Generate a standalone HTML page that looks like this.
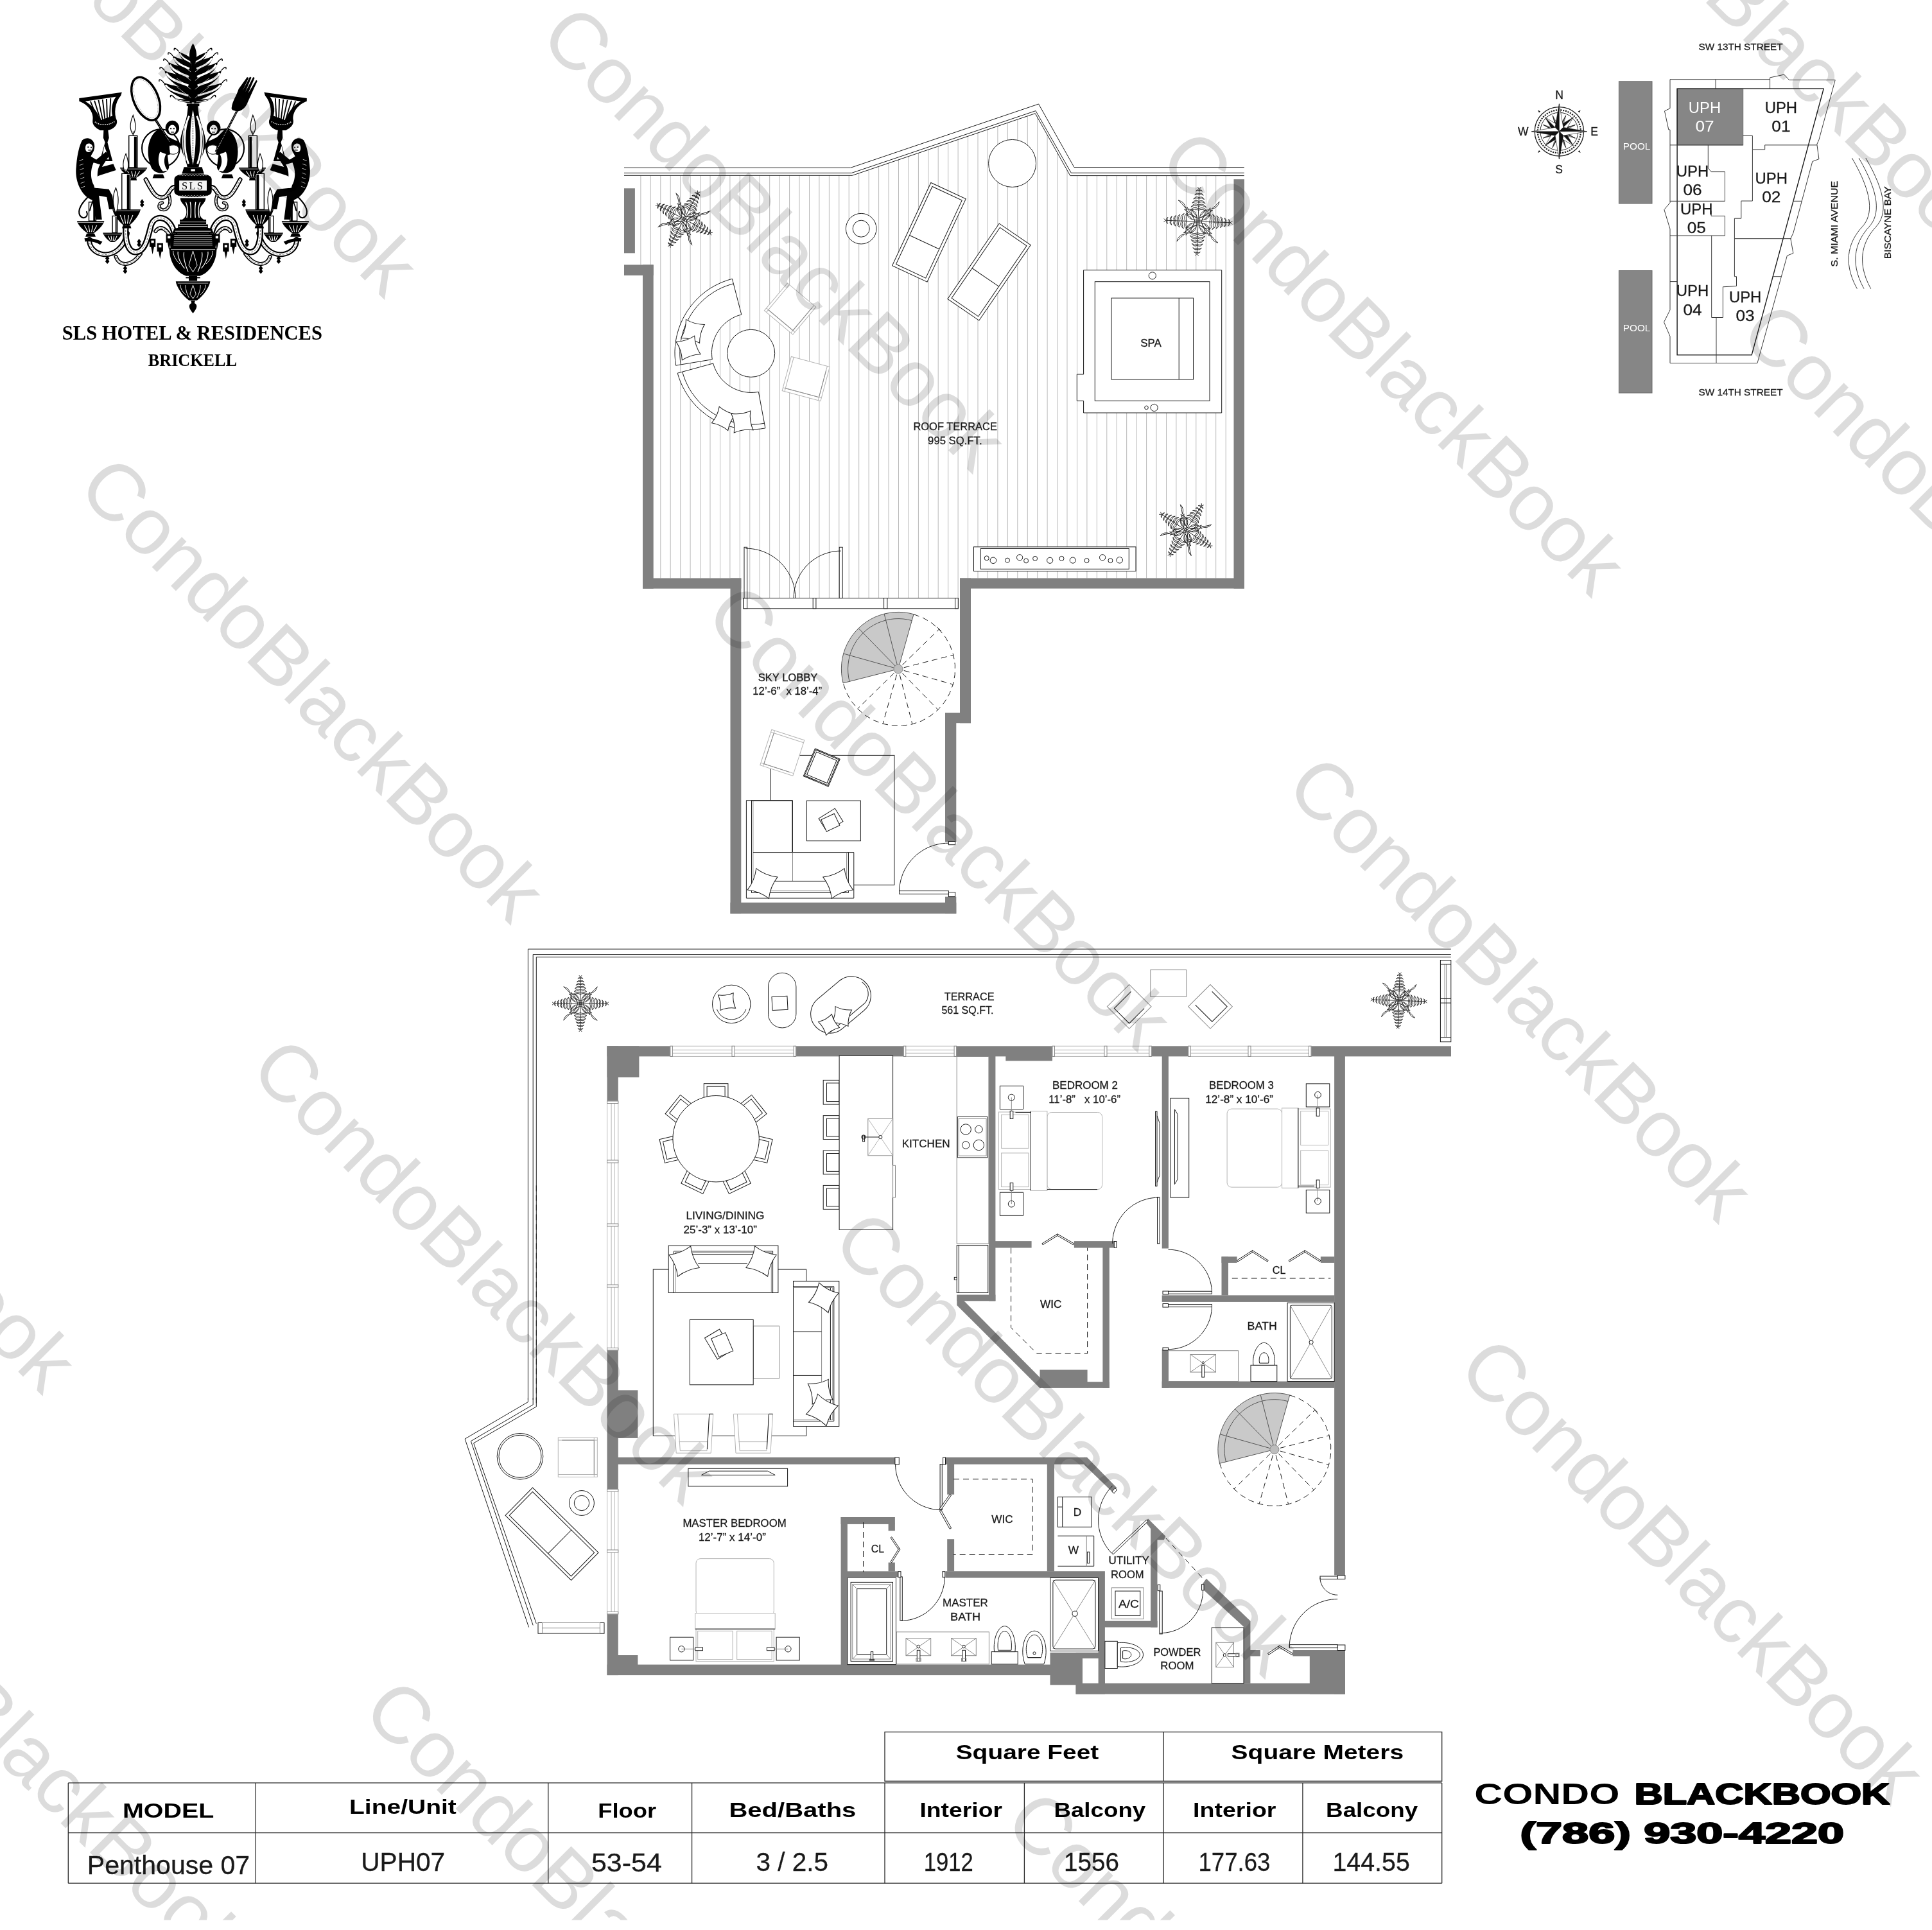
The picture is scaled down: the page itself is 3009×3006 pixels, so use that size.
<!DOCTYPE html>
<html><head><meta charset="utf-8"><title>SLS Brickell UPH07 Floor Plan</title><style>
html,body{margin:0;padding:0;background:#fff}
svg{display:block;filter:grayscale(1)}
text{font-family:"Liberation Sans",sans-serif;fill:#111}
.t{font-family:"Liberation Sans",sans-serif;fill:#1a1a1a;stroke:#1a1a1a;stroke-width:0.28px}
.tb{font-family:"Liberation Sans",sans-serif;font-weight:bold;fill:#000}
.ts{font-family:"Liberation Serif",serif;font-weight:bold;fill:#000}
.tw{font-family:"Liberation Sans",sans-serif;fill:#fff}
.l{fill:none;stroke:#1c1c1c;stroke-width:1}
.lw{fill:#fff;stroke:#1c1c1c;stroke-width:1}
.g{fill:none;stroke:#8a8a8a;stroke-width:1}
.gw{fill:#fff;stroke:#8a8a8a;stroke-width:1}
.g2{fill:none;stroke:#b4b4b4;stroke-width:1}
.g2w{fill:#fff;stroke:#b4b4b4;stroke-width:1}
.d{fill:none;stroke:#1c1c1c;stroke-width:1;stroke-dasharray:9 6}
.k{fill:#000;stroke:none}
.wf{fill:#fff;stroke:none}
</style></head><body>
<svg xmlns="http://www.w3.org/2000/svg" width="3009" height="3006" viewBox="0 0 3009 3006">
<rect width="3009" height="3006" fill="#fff"/>
<g id="stripes"><clipPath id="tc"><polygon points="1017.7,273.3 1327.5,273.3 1612.5,176.5 1667,273.5 1921.5,273.5 1921.5,900.5 1495,900.5 1495,931.6 1154.3,931.6 1154.3,900.5 1017.7,900.5 1017.7,412.4 972,412.4 972,273.3"/></clipPath>
<path clip-path="url(#tc)" d="M997.9 150V940M1013.3 150V940M1028.8 150V940M1044.2 150V940M1059.7 150V940M1075.1 150V940M1090.6 150V940M1106 150V940M1121.5 150V940M1136.9 150V940M1152.3 150V940M1167.8 150V940M1183.2 150V940M1198.7 150V940M1214.1 150V940M1229.6 150V940M1245 150V940M1260.5 150V940M1275.9 150V940M1291.4 150V940M1306.8 150V940M1322.2 150V940M1337.7 150V940M1353.1 150V940M1368.6 150V940M1384 150V940M1399.5 150V940M1414.9 150V940M1430.4 150V940M1445.8 150V940M1461.2 150V940M1476.7 150V940M1492.1 150V940M1507.6 150V940M1523 150V940M1538.5 150V940M1553.9 150V940M1569.4 150V940M1584.8 150V940M1600.3 150V940M1615.7 150V940M1631.1 150V940M1646.6 150V940M1662 150V940M1677.5 150V940M1692.9 150V940M1708.4 150V940M1723.8 150V940M1739.3 150V940M1754.7 150V940M1770.1 150V940M1785.6 150V940M1801 150V940M1816.5 150V940M1831.9 150V940M1847.4 150V940M1862.8 150V940M1878.3 150V940M1893.7 150V940M1909.2 150V940M1924.6 150V940" fill="none" stroke="#b9b9b9" stroke-width="1"/></g>
<g id="fill"><polygon class="sg" points="1399,1042 1313.1,1063.9 1311.6,1056.3 1310.6,1048.6 1310.4,1040.9 1310.8,1033.2 1311.9,1025.5 1313.7,1018 1316.1,1010.7 1319.2,1003.6 1322.8,996.8 1327,990.3 1331.8,984.2 1337.1,978.6 1342.9,973.4 1349.1,968.8 1355.6,964.7 1362.5,961.2 1369.7,958.4 1377.1,956.1 1384.7,954.6 1392.4,953.6 1400.1,953.4 1407.8,953.8 1415.5,954.9 1423,956.7"/>
<polygon class="sg" points="1984.9,2257.6 1899.6,2279.3 1898.1,2271.8 1897.1,2264.2 1896.9,2256.5 1897.3,2248.9 1898.4,2241.3 1900.2,2233.8 1902.6,2226.5 1905.6,2219.4 1909.2,2212.7 1913.4,2206.2 1918.2,2200.2 1923.4,2194.6 1929.2,2189.5 1935.3,2184.9 1941.8,2180.9 1948.7,2177.4 1955.8,2174.5 1963.2,2172.3 1970.7,2170.8 1978.3,2169.8 1986,2169.6 1993.6,2170 2001.2,2171.1 2008.7,2172.9"/></g>
<g id="walls" fill="#808080"><rect x="972" y="293.3" width="16.9" height="101"/>
<rect x="972" y="412.4" width="45.7" height="16.6"/>
<rect x="1001" y="412.4" width="16.7" height="504.3"/>
<rect x="1001" y="900.5" width="153.3" height="16.2"/>
<rect x="1137.5" y="900.5" width="16.8" height="522.4"/>
<rect x="1137.5" y="1405.7" width="351.8" height="17.2"/>
<rect x="1472" y="1396.7" width="17.3" height="26.2"/>
<rect x="1472" y="1110" width="17.3" height="201"/>
<rect x="1472" y="1110" width="40" height="16.2"/>
<rect x="1495" y="900.5" width="17" height="225.7"/>
<rect x="1495" y="900.5" width="443" height="16.1"/>
<rect x="1921.5" y="279.2" width="16.5" height="637.4"/>
<rect x="945.5" y="1629.3" width="98.4" height="16.1"/>
<rect x="1239.6" y="1629.3" width="167.7" height="16.1"/>
<rect x="1489.6" y="1629.3" width="149.4" height="16.1"/>
<rect x="1566.3" y="1644.4" width="72.7" height="7.9"/>
<rect x="1793.3" y="1629.3" width="57.5" height="16.1"/>
<rect x="2042" y="1629.3" width="218" height="16.1"/>
<rect x="945.5" y="1629.3" width="49.9" height="48.7"/>
<rect x="945.5" y="1629.3" width="17.3" height="85.7"/>
<rect x="945.5" y="2102.9" width="17.3" height="216.7"/>
<rect x="962" y="2165.3" width="31.4" height="74.6"/>
<rect x="945.5" y="2513.9" width="17.3" height="95.2"/>
<rect x="962" y="2578" width="31.4" height="15"/>
<rect x="945.5" y="2592.6" width="694.5" height="16.5"/>
<rect x="962" y="2269.8" width="432" height="10.9"/>
<rect x="1540" y="1644.4" width="10.4" height="381.9"/>
<rect x="1490.3" y="2016.6" width="60.1" height="9.7"/>
<rect x="1550" y="1933.1" width="56.6" height="10.4"/>
<rect x="1672.9" y="1933.1" width="62.1" height="10.4"/>
<rect x="1717.4" y="1943" width="10.4" height="218.9"/>
<rect x="1619.5" y="2133.5" width="74.1" height="28.4"/>
<rect x="1693" y="2152.2" width="34.8" height="9.7"/>
<polygon points="1490.3,2016.6 1490.3,2032.9 1619.5,2161.9 1636,2161.9 1501.5,2026.3"/>
<rect x="1809.7" y="1644.4" width="10.2" height="300.1"/>
<rect x="2078.1" y="1644.4" width="16.8" height="809.1"/>
<rect x="2078.1" y="2570" width="16.8" height="68.6"/>
<rect x="1902.5" y="1957.2" width="10.5" height="60.3"/>
<rect x="1902.5" y="1957.2" width="24.1" height="9.7"/>
<rect x="2056.8" y="1957.2" width="21.7" height="9.7"/>
<rect x="1809.7" y="2017.4" width="268.8" height="10.5"/>
<rect x="1809.7" y="2151.5" width="268.8" height="10.4"/>
<rect x="1809.7" y="2101.9" width="10.2" height="60"/>
<rect x="1472.5" y="2269.8" width="217.5" height="10.9"/>
<rect x="1475.2" y="2280" width="10.9" height="47.7"/>
<rect x="1475.2" y="2397.2" width="10.9" height="50.3"/>
<rect x="1630.8" y="2280" width="11.2" height="167.5"/>
<rect x="1472.5" y="2447.2" width="248.4" height="10.3"/>
<polygon points="1689,2269.8 1693,2269.8 1739.6,2317.6 1731.8,2323.3 1687.8,2280.7 1689,2280.7"/>
<rect x="1309.6" y="2363" width="10.3" height="230"/>
<rect x="1309.6" y="2363" width="84.3" height="10.9"/>
<rect x="1383.6" y="2373" width="10.3" height="11.2"/>
<rect x="1383.6" y="2433.6" width="10.3" height="13.9"/>
<rect x="1319" y="2447.3" width="81.7" height="9.1"/>
<rect x="1710.6" y="2457" width="10.3" height="165"/>
<rect x="1720" y="2524.7" width="82.5" height="9.8"/>
<rect x="1792.1" y="2398" width="10.4" height="136.5"/>
<polygon points="1783,2369.4 1788.2,2365.5 1815.4,2392.7 1812.8,2398.4 1792.1,2398.4 1792.1,2381"/>
<polygon points="1872.3,2467.7 1878.8,2458.7 1947.4,2524.7 1947.4,2621.8 1937,2621.8 1937,2533.7 1874.9,2476.8 1872.3,2476.8"/>
<rect x="1947" y="2570" width="15.9" height="9.5"/>
<rect x="2013.4" y="2570" width="81.5" height="9.5"/>
<rect x="2039.8" y="2579" width="55.1" height="59.6"/>
<rect x="1675.6" y="2621.7" width="419.3" height="16.9"/>
<rect x="1635.5" y="2573.9" width="85.4" height="50.4"/>
<rect x="1675.6" y="2573.9" width="45.3" height="64.7"/>
<rect class="wf" x="1686" y="2583" width="24.6" height="38.7"/></g>
<g id="lines"><style>.pl{fill:none;stroke:#222;stroke-width:0.9}.sg{fill:#c9c9c9;stroke:none}.sl{fill:none;stroke:#555;stroke-width:1}.sh{fill:#bdbdbd;stroke:#888;stroke-width:1}</style>
<polyline class="l" points="972,261.4 1324.4,261.4 1617.6,162 1673,260.6 1937.8,260.6"/>
<polyline class="l" points="972,269.4 1326.5,269.4 1613,172.6 1668.3,269.3 1937.8,269.3"/>
<polyline class="l" points="972,273.3 1327.3,273.3 1612.3,176.7 1666.8,273.6 1937.8,273.6"/>
<path class="pl" transform="translate(1065.3 341.2) rotate(28)" d="M0 0L0 -46M0 -18.4 Q-7.7 -22.6 -12.4 -14.7 Q-6.2 -19.1 0 -16.2M0 -18.4 Q7.7 -22.6 12.4 -14.7 Q6.2 -19.1 0 -16.2M0 -23.7 Q-6.7 -27.4 -10.9 -20.4 Q-5.4 -24.3 0 -21.7M0 -23.7 Q6.7 -27.4 10.9 -20.4 Q5.4 -24.3 0 -21.7M0 -29 Q-5.8 -32.1 -9.3 -26.2 Q-4.6 -29.5 0 -27.3M0 -29 Q5.8 -32.1 9.3 -26.2 Q4.6 -29.5 0 -27.3M0 -34.3 Q-4.8 -36.9 -7.7 -32 Q-3.9 -34.7 0 -32.9M0 -34.3 Q4.8 -36.9 7.7 -32 Q3.9 -34.7 0 -32.9M0 -39.6 Q-3.8 -41.7 -6.2 -37.7 Q-3.1 -39.9 0 -38.5M0 -39.6 Q3.8 -41.7 6.2 -37.7 Q3.1 -39.9 0 -38.5M0 -44.9 Q-2.9 -46.4 -4.6 -43.5 Q-2.3 -45.1 0 -44M0 -44.9 Q2.9 -46.4 4.6 -43.5 Q2.3 -45.1 0 -44M0 -46 l-2.3 -3.2 M0 -46 l2.3 -3.2M0 -1.8 Q-20.2 -0.9 -16.6 -20.2 Q-10.1 -7.4 0 -4.6M-2.3 -5.5 Q-12 -7.4 -9.2 -16.6 Q-6.4 -10.1 -2.3 -8.3M0 -1.8 Q20.2 -0.9 16.6 -20.2 Q10.1 -7.4 0 -4.6M2.3 -5.5 Q12 -7.4 9.2 -16.6 Q6.4 -10.1 2.3 -8.3M18.4 -18.4 Q27.6 -20.2 29.4 -29.4 Q23.9 -23 18.4 -18.4"/>
<path class="pl" transform="translate(1065.3 341.2) rotate(118)" d="M0 0L0 -46M0 -18.4 Q-7.7 -22.6 -12.4 -14.7 Q-6.2 -19.1 0 -16.2M0 -18.4 Q7.7 -22.6 12.4 -14.7 Q6.2 -19.1 0 -16.2M0 -23.7 Q-6.7 -27.4 -10.9 -20.4 Q-5.4 -24.3 0 -21.7M0 -23.7 Q6.7 -27.4 10.9 -20.4 Q5.4 -24.3 0 -21.7M0 -29 Q-5.8 -32.1 -9.3 -26.2 Q-4.6 -29.5 0 -27.3M0 -29 Q5.8 -32.1 9.3 -26.2 Q4.6 -29.5 0 -27.3M0 -34.3 Q-4.8 -36.9 -7.7 -32 Q-3.9 -34.7 0 -32.9M0 -34.3 Q4.8 -36.9 7.7 -32 Q3.9 -34.7 0 -32.9M0 -39.6 Q-3.8 -41.7 -6.2 -37.7 Q-3.1 -39.9 0 -38.5M0 -39.6 Q3.8 -41.7 6.2 -37.7 Q3.1 -39.9 0 -38.5M0 -44.9 Q-2.9 -46.4 -4.6 -43.5 Q-2.3 -45.1 0 -44M0 -44.9 Q2.9 -46.4 4.6 -43.5 Q2.3 -45.1 0 -44M0 -46 l-2.3 -3.2 M0 -46 l2.3 -3.2M0 -1.8 Q-20.2 -0.9 -16.6 -20.2 Q-10.1 -7.4 0 -4.6M-2.3 -5.5 Q-12 -7.4 -9.2 -16.6 Q-6.4 -10.1 -2.3 -8.3M0 -1.8 Q20.2 -0.9 16.6 -20.2 Q10.1 -7.4 0 -4.6M2.3 -5.5 Q12 -7.4 9.2 -16.6 Q6.4 -10.1 2.3 -8.3M18.4 -18.4 Q27.6 -20.2 29.4 -29.4 Q23.9 -23 18.4 -18.4"/>
<path class="pl" transform="translate(1065.3 341.2) rotate(208)" d="M0 0L0 -46M0 -18.4 Q-7.7 -22.6 -12.4 -14.7 Q-6.2 -19.1 0 -16.2M0 -18.4 Q7.7 -22.6 12.4 -14.7 Q6.2 -19.1 0 -16.2M0 -23.7 Q-6.7 -27.4 -10.9 -20.4 Q-5.4 -24.3 0 -21.7M0 -23.7 Q6.7 -27.4 10.9 -20.4 Q5.4 -24.3 0 -21.7M0 -29 Q-5.8 -32.1 -9.3 -26.2 Q-4.6 -29.5 0 -27.3M0 -29 Q5.8 -32.1 9.3 -26.2 Q4.6 -29.5 0 -27.3M0 -34.3 Q-4.8 -36.9 -7.7 -32 Q-3.9 -34.7 0 -32.9M0 -34.3 Q4.8 -36.9 7.7 -32 Q3.9 -34.7 0 -32.9M0 -39.6 Q-3.8 -41.7 -6.2 -37.7 Q-3.1 -39.9 0 -38.5M0 -39.6 Q3.8 -41.7 6.2 -37.7 Q3.1 -39.9 0 -38.5M0 -44.9 Q-2.9 -46.4 -4.6 -43.5 Q-2.3 -45.1 0 -44M0 -44.9 Q2.9 -46.4 4.6 -43.5 Q2.3 -45.1 0 -44M0 -46 l-2.3 -3.2 M0 -46 l2.3 -3.2M0 -1.8 Q-20.2 -0.9 -16.6 -20.2 Q-10.1 -7.4 0 -4.6M-2.3 -5.5 Q-12 -7.4 -9.2 -16.6 Q-6.4 -10.1 -2.3 -8.3M0 -1.8 Q20.2 -0.9 16.6 -20.2 Q10.1 -7.4 0 -4.6M2.3 -5.5 Q12 -7.4 9.2 -16.6 Q6.4 -10.1 2.3 -8.3M18.4 -18.4 Q27.6 -20.2 29.4 -29.4 Q23.9 -23 18.4 -18.4"/>
<path class="pl" transform="translate(1065.3 341.2) rotate(298)" d="M0 0L0 -46M0 -18.4 Q-7.7 -22.6 -12.4 -14.7 Q-6.2 -19.1 0 -16.2M0 -18.4 Q7.7 -22.6 12.4 -14.7 Q6.2 -19.1 0 -16.2M0 -23.7 Q-6.7 -27.4 -10.9 -20.4 Q-5.4 -24.3 0 -21.7M0 -23.7 Q6.7 -27.4 10.9 -20.4 Q5.4 -24.3 0 -21.7M0 -29 Q-5.8 -32.1 -9.3 -26.2 Q-4.6 -29.5 0 -27.3M0 -29 Q5.8 -32.1 9.3 -26.2 Q4.6 -29.5 0 -27.3M0 -34.3 Q-4.8 -36.9 -7.7 -32 Q-3.9 -34.7 0 -32.9M0 -34.3 Q4.8 -36.9 7.7 -32 Q3.9 -34.7 0 -32.9M0 -39.6 Q-3.8 -41.7 -6.2 -37.7 Q-3.1 -39.9 0 -38.5M0 -39.6 Q3.8 -41.7 6.2 -37.7 Q3.1 -39.9 0 -38.5M0 -44.9 Q-2.9 -46.4 -4.6 -43.5 Q-2.3 -45.1 0 -44M0 -44.9 Q2.9 -46.4 4.6 -43.5 Q2.3 -45.1 0 -44M0 -46 l-2.3 -3.2 M0 -46 l2.3 -3.2M0 -1.8 Q-20.2 -0.9 -16.6 -20.2 Q-10.1 -7.4 0 -4.6M-2.3 -5.5 Q-12 -7.4 -9.2 -16.6 Q-6.4 -10.1 -2.3 -8.3M0 -1.8 Q20.2 -0.9 16.6 -20.2 Q10.1 -7.4 0 -4.6M2.3 -5.5 Q12 -7.4 9.2 -16.6 Q6.4 -10.1 2.3 -8.3M18.4 -18.4 Q27.6 -20.2 29.4 -29.4 Q23.9 -23 18.4 -18.4"/>
<path class="pl" transform="translate(1866 345) rotate(2)" d="M0 0L0 -50M0 -20 Q-8.4 -24.6 -13.5 -15.9 Q-6.8 -20.8 0 -17.6M0 -20 Q8.4 -24.6 13.5 -15.9 Q6.8 -20.8 0 -17.6M0 -25.8 Q-7.3 -29.8 -11.8 -22.2 Q-5.9 -26.5 0 -23.6M0 -25.8 Q7.3 -29.8 11.8 -22.2 Q5.9 -26.5 0 -23.6M0 -31.5 Q-6.3 -34.9 -10.1 -28.5 Q-5.1 -32.1 0 -29.7M0 -31.5 Q6.3 -34.9 10.1 -28.5 Q5.1 -32.1 0 -29.7M0 -37.3 Q-5.2 -40.1 -8.4 -34.7 Q-4.2 -37.8 0 -35.7M0 -37.3 Q5.2 -40.1 8.4 -34.7 Q4.2 -37.8 0 -35.7M0 -43 Q-4.2 -45.3 -6.7 -41 Q-3.4 -43.4 0 -41.8M0 -43 Q4.2 -45.3 6.7 -41 Q3.4 -43.4 0 -41.8M0 -48.8 Q-3.1 -50.5 -5 -47.3 Q-2.5 -49.1 0 -47.9M0 -48.8 Q3.1 -50.5 5 -47.3 Q2.5 -49.1 0 -47.9M0 -50 l-2.5 -3.5 M0 -50 l2.5 -3.5M0 -2 Q-22 -1 -18 -22 Q-11 -8 0 -5M-2.5 -6 Q-13 -8 -10 -18 Q-7 -11 -2.5 -9M0 -2 Q22 -1 18 -22 Q11 -8 0 -5M2.5 -6 Q13 -8 10 -18 Q7 -11 2.5 -9M20 -20 Q30 -22 32 -32 Q26 -25 20 -20"/>
<path class="pl" transform="translate(1866 345) rotate(92)" d="M0 0L0 -50M0 -20 Q-8.4 -24.6 -13.5 -15.9 Q-6.8 -20.8 0 -17.6M0 -20 Q8.4 -24.6 13.5 -15.9 Q6.8 -20.8 0 -17.6M0 -25.8 Q-7.3 -29.8 -11.8 -22.2 Q-5.9 -26.5 0 -23.6M0 -25.8 Q7.3 -29.8 11.8 -22.2 Q5.9 -26.5 0 -23.6M0 -31.5 Q-6.3 -34.9 -10.1 -28.5 Q-5.1 -32.1 0 -29.7M0 -31.5 Q6.3 -34.9 10.1 -28.5 Q5.1 -32.1 0 -29.7M0 -37.3 Q-5.2 -40.1 -8.4 -34.7 Q-4.2 -37.8 0 -35.7M0 -37.3 Q5.2 -40.1 8.4 -34.7 Q4.2 -37.8 0 -35.7M0 -43 Q-4.2 -45.3 -6.7 -41 Q-3.4 -43.4 0 -41.8M0 -43 Q4.2 -45.3 6.7 -41 Q3.4 -43.4 0 -41.8M0 -48.8 Q-3.1 -50.5 -5 -47.3 Q-2.5 -49.1 0 -47.9M0 -48.8 Q3.1 -50.5 5 -47.3 Q2.5 -49.1 0 -47.9M0 -50 l-2.5 -3.5 M0 -50 l2.5 -3.5M0 -2 Q-22 -1 -18 -22 Q-11 -8 0 -5M-2.5 -6 Q-13 -8 -10 -18 Q-7 -11 -2.5 -9M0 -2 Q22 -1 18 -22 Q11 -8 0 -5M2.5 -6 Q13 -8 10 -18 Q7 -11 2.5 -9M20 -20 Q30 -22 32 -32 Q26 -25 20 -20"/>
<path class="pl" transform="translate(1866 345) rotate(182)" d="M0 0L0 -50M0 -20 Q-8.4 -24.6 -13.5 -15.9 Q-6.8 -20.8 0 -17.6M0 -20 Q8.4 -24.6 13.5 -15.9 Q6.8 -20.8 0 -17.6M0 -25.8 Q-7.3 -29.8 -11.8 -22.2 Q-5.9 -26.5 0 -23.6M0 -25.8 Q7.3 -29.8 11.8 -22.2 Q5.9 -26.5 0 -23.6M0 -31.5 Q-6.3 -34.9 -10.1 -28.5 Q-5.1 -32.1 0 -29.7M0 -31.5 Q6.3 -34.9 10.1 -28.5 Q5.1 -32.1 0 -29.7M0 -37.3 Q-5.2 -40.1 -8.4 -34.7 Q-4.2 -37.8 0 -35.7M0 -37.3 Q5.2 -40.1 8.4 -34.7 Q4.2 -37.8 0 -35.7M0 -43 Q-4.2 -45.3 -6.7 -41 Q-3.4 -43.4 0 -41.8M0 -43 Q4.2 -45.3 6.7 -41 Q3.4 -43.4 0 -41.8M0 -48.8 Q-3.1 -50.5 -5 -47.3 Q-2.5 -49.1 0 -47.9M0 -48.8 Q3.1 -50.5 5 -47.3 Q2.5 -49.1 0 -47.9M0 -50 l-2.5 -3.5 M0 -50 l2.5 -3.5M0 -2 Q-22 -1 -18 -22 Q-11 -8 0 -5M-2.5 -6 Q-13 -8 -10 -18 Q-7 -11 -2.5 -9M0 -2 Q22 -1 18 -22 Q11 -8 0 -5M2.5 -6 Q13 -8 10 -18 Q7 -11 2.5 -9M20 -20 Q30 -22 32 -32 Q26 -25 20 -20"/>
<path class="pl" transform="translate(1866 345) rotate(272)" d="M0 0L0 -50M0 -20 Q-8.4 -24.6 -13.5 -15.9 Q-6.8 -20.8 0 -17.6M0 -20 Q8.4 -24.6 13.5 -15.9 Q6.8 -20.8 0 -17.6M0 -25.8 Q-7.3 -29.8 -11.8 -22.2 Q-5.9 -26.5 0 -23.6M0 -25.8 Q7.3 -29.8 11.8 -22.2 Q5.9 -26.5 0 -23.6M0 -31.5 Q-6.3 -34.9 -10.1 -28.5 Q-5.1 -32.1 0 -29.7M0 -31.5 Q6.3 -34.9 10.1 -28.5 Q5.1 -32.1 0 -29.7M0 -37.3 Q-5.2 -40.1 -8.4 -34.7 Q-4.2 -37.8 0 -35.7M0 -37.3 Q5.2 -40.1 8.4 -34.7 Q4.2 -37.8 0 -35.7M0 -43 Q-4.2 -45.3 -6.7 -41 Q-3.4 -43.4 0 -41.8M0 -43 Q4.2 -45.3 6.7 -41 Q3.4 -43.4 0 -41.8M0 -48.8 Q-3.1 -50.5 -5 -47.3 Q-2.5 -49.1 0 -47.9M0 -48.8 Q3.1 -50.5 5 -47.3 Q2.5 -49.1 0 -47.9M0 -50 l-2.5 -3.5 M0 -50 l2.5 -3.5M0 -2 Q-22 -1 -18 -22 Q-11 -8 0 -5M-2.5 -6 Q-13 -8 -10 -18 Q-7 -11 -2.5 -9M0 -2 Q22 -1 18 -22 Q11 -8 0 -5M2.5 -6 Q13 -8 10 -18 Q7 -11 2.5 -9M20 -20 Q30 -22 32 -32 Q26 -25 20 -20"/>
<path class="pl" transform="translate(1846.8 825.7) rotate(33)" d="M0 0L0 -45M0 -18 Q-7.5 -22.1 -12.2 -14.4 Q-6.1 -18.7 0 -15.8M0 -18 Q7.5 -22.1 12.2 -14.4 Q6.1 -18.7 0 -15.8M0 -23.2 Q-6.6 -26.8 -10.6 -20 Q-5.3 -23.8 0 -21.3M0 -23.2 Q6.6 -26.8 10.6 -20 Q5.3 -23.8 0 -21.3M0 -28.4 Q-5.6 -31.4 -9.1 -25.6 Q-4.5 -28.9 0 -26.7M0 -28.4 Q5.6 -31.4 9.1 -25.6 Q4.5 -28.9 0 -26.7M0 -33.5 Q-4.7 -36.1 -7.6 -31.3 Q-3.8 -34 0 -32.2M0 -33.5 Q4.7 -36.1 7.6 -31.3 Q3.8 -34 0 -32.2M0 -38.7 Q-3.7 -40.8 -6 -36.9 Q-3 -39.1 0 -37.6M0 -38.7 Q3.7 -40.8 6 -36.9 Q3 -39.1 0 -37.6M0 -43.9 Q-2.8 -45.4 -4.5 -42.5 Q-2.2 -44.1 0 -43.1M0 -43.9 Q2.8 -45.4 4.5 -42.5 Q2.2 -44.1 0 -43.1M0 -45 l-2.2 -3.2 M0 -45 l2.2 -3.2M0 -1.8 Q-19.8 -0.9 -16.2 -19.8 Q-9.9 -7.2 0 -4.5M-2.2 -5.4 Q-11.7 -7.2 -9 -16.2 Q-6.3 -9.9 -2.2 -8.1M0 -1.8 Q19.8 -0.9 16.2 -19.8 Q9.9 -7.2 0 -4.5M2.2 -5.4 Q11.7 -7.2 9 -16.2 Q6.3 -9.9 2.2 -8.1M18 -18 Q27 -19.8 28.8 -28.8 Q23.4 -22.5 18 -18"/>
<path class="pl" transform="translate(1846.8 825.7) rotate(123)" d="M0 0L0 -45M0 -18 Q-7.5 -22.1 -12.2 -14.4 Q-6.1 -18.7 0 -15.8M0 -18 Q7.5 -22.1 12.2 -14.4 Q6.1 -18.7 0 -15.8M0 -23.2 Q-6.6 -26.8 -10.6 -20 Q-5.3 -23.8 0 -21.3M0 -23.2 Q6.6 -26.8 10.6 -20 Q5.3 -23.8 0 -21.3M0 -28.4 Q-5.6 -31.4 -9.1 -25.6 Q-4.5 -28.9 0 -26.7M0 -28.4 Q5.6 -31.4 9.1 -25.6 Q4.5 -28.9 0 -26.7M0 -33.5 Q-4.7 -36.1 -7.6 -31.3 Q-3.8 -34 0 -32.2M0 -33.5 Q4.7 -36.1 7.6 -31.3 Q3.8 -34 0 -32.2M0 -38.7 Q-3.7 -40.8 -6 -36.9 Q-3 -39.1 0 -37.6M0 -38.7 Q3.7 -40.8 6 -36.9 Q3 -39.1 0 -37.6M0 -43.9 Q-2.8 -45.4 -4.5 -42.5 Q-2.2 -44.1 0 -43.1M0 -43.9 Q2.8 -45.4 4.5 -42.5 Q2.2 -44.1 0 -43.1M0 -45 l-2.2 -3.2 M0 -45 l2.2 -3.2M0 -1.8 Q-19.8 -0.9 -16.2 -19.8 Q-9.9 -7.2 0 -4.5M-2.2 -5.4 Q-11.7 -7.2 -9 -16.2 Q-6.3 -9.9 -2.2 -8.1M0 -1.8 Q19.8 -0.9 16.2 -19.8 Q9.9 -7.2 0 -4.5M2.2 -5.4 Q11.7 -7.2 9 -16.2 Q6.3 -9.9 2.2 -8.1M18 -18 Q27 -19.8 28.8 -28.8 Q23.4 -22.5 18 -18"/>
<path class="pl" transform="translate(1846.8 825.7) rotate(213)" d="M0 0L0 -45M0 -18 Q-7.5 -22.1 -12.2 -14.4 Q-6.1 -18.7 0 -15.8M0 -18 Q7.5 -22.1 12.2 -14.4 Q6.1 -18.7 0 -15.8M0 -23.2 Q-6.6 -26.8 -10.6 -20 Q-5.3 -23.8 0 -21.3M0 -23.2 Q6.6 -26.8 10.6 -20 Q5.3 -23.8 0 -21.3M0 -28.4 Q-5.6 -31.4 -9.1 -25.6 Q-4.5 -28.9 0 -26.7M0 -28.4 Q5.6 -31.4 9.1 -25.6 Q4.5 -28.9 0 -26.7M0 -33.5 Q-4.7 -36.1 -7.6 -31.3 Q-3.8 -34 0 -32.2M0 -33.5 Q4.7 -36.1 7.6 -31.3 Q3.8 -34 0 -32.2M0 -38.7 Q-3.7 -40.8 -6 -36.9 Q-3 -39.1 0 -37.6M0 -38.7 Q3.7 -40.8 6 -36.9 Q3 -39.1 0 -37.6M0 -43.9 Q-2.8 -45.4 -4.5 -42.5 Q-2.2 -44.1 0 -43.1M0 -43.9 Q2.8 -45.4 4.5 -42.5 Q2.2 -44.1 0 -43.1M0 -45 l-2.2 -3.2 M0 -45 l2.2 -3.2M0 -1.8 Q-19.8 -0.9 -16.2 -19.8 Q-9.9 -7.2 0 -4.5M-2.2 -5.4 Q-11.7 -7.2 -9 -16.2 Q-6.3 -9.9 -2.2 -8.1M0 -1.8 Q19.8 -0.9 16.2 -19.8 Q9.9 -7.2 0 -4.5M2.2 -5.4 Q11.7 -7.2 9 -16.2 Q6.3 -9.9 2.2 -8.1M18 -18 Q27 -19.8 28.8 -28.8 Q23.4 -22.5 18 -18"/>
<path class="pl" transform="translate(1846.8 825.7) rotate(303)" d="M0 0L0 -45M0 -18 Q-7.5 -22.1 -12.2 -14.4 Q-6.1 -18.7 0 -15.8M0 -18 Q7.5 -22.1 12.2 -14.4 Q6.1 -18.7 0 -15.8M0 -23.2 Q-6.6 -26.8 -10.6 -20 Q-5.3 -23.8 0 -21.3M0 -23.2 Q6.6 -26.8 10.6 -20 Q5.3 -23.8 0 -21.3M0 -28.4 Q-5.6 -31.4 -9.1 -25.6 Q-4.5 -28.9 0 -26.7M0 -28.4 Q5.6 -31.4 9.1 -25.6 Q4.5 -28.9 0 -26.7M0 -33.5 Q-4.7 -36.1 -7.6 -31.3 Q-3.8 -34 0 -32.2M0 -33.5 Q4.7 -36.1 7.6 -31.3 Q3.8 -34 0 -32.2M0 -38.7 Q-3.7 -40.8 -6 -36.9 Q-3 -39.1 0 -37.6M0 -38.7 Q3.7 -40.8 6 -36.9 Q3 -39.1 0 -37.6M0 -43.9 Q-2.8 -45.4 -4.5 -42.5 Q-2.2 -44.1 0 -43.1M0 -43.9 Q2.8 -45.4 4.5 -42.5 Q2.2 -44.1 0 -43.1M0 -45 l-2.2 -3.2 M0 -45 l2.2 -3.2M0 -1.8 Q-19.8 -0.9 -16.2 -19.8 Q-9.9 -7.2 0 -4.5M-2.2 -5.4 Q-11.7 -7.2 -9 -16.2 Q-6.3 -9.9 -2.2 -8.1M0 -1.8 Q19.8 -0.9 16.2 -19.8 Q9.9 -7.2 0 -4.5M2.2 -5.4 Q11.7 -7.2 9 -16.2 Q6.3 -9.9 2.2 -8.1M18 -18 Q27 -19.8 28.8 -28.8 Q23.4 -22.5 18 -18"/>
<circle class="lw" cx="1341.2" cy="356.2" r="23.8"/>
<circle class="l" cx="1341.2" cy="356.2" r="13"/>
<circle class="lw" cx="1576.6" cy="254.4" r="37"/>
<polygon class="lw" points="1052.6,569.2 1051.6,561.9 1051.1,554.5 1051,547.2 1051.4,539.8 1052.2,532.5 1053.5,525.3 1055.3,518.1 1057.4,511.1 1060,504.2 1063,497.5 1066.5,491 1070.3,484.7 1074.5,478.7 1079.1,472.9 1084,467.4 1089.2,462.2 1094.8,457.4 1100.6,452.9 1106.7,448.8 1113,445.1 1119.6,441.8 1126.4,438.9 1133.3,436.4 1140.4,434.3 1154.8,490 1151.1,491 1147.5,492.3 1144,493.8 1140.6,495.6 1137.3,497.5 1134.2,499.6 1131.2,501.9 1128.3,504.4 1125.6,507.1 1123,509.9 1120.7,512.9 1118.5,516.1 1116.5,519.3 1114.7,522.7 1113.2,526.2 1111.8,529.7 1110.7,533.4 1109.8,537.1 1109.1,540.8 1108.7,544.6 1108.5,548.4 1108.6,552.2 1108.8,556 1109.3,559.8"/>
<polyline class="l" points="1060.3,567.9 1059.4,561.1 1058.9,554.2 1058.8,547.3 1059.2,540.5 1060,533.6 1061.2,526.9 1062.8,520.2 1064.8,513.6 1067.2,507.2 1070.1,500.9 1073.3,494.8 1076.8,488.9 1080.8,483.3 1085,477.9 1089.6,472.8 1094.5,468 1099.7,463.4 1105.2,459.3 1110.9,455.4 1116.8,451.9 1122.9,448.8 1129.2,446.1 1135.7,443.8 1142.3,441.8"/>
<polygon class="lw" points="1191.9,666.9 1184.6,668 1177.3,668.7 1169.9,668.9 1162.5,668.7 1155.2,667.9 1147.9,666.8 1140.7,665.2 1133.6,663.1 1126.6,660.6 1119.8,657.7 1113.2,654.4 1106.9,650.7 1100.7,646.6 1094.9,642.1 1089.3,637.2 1084,632.1 1079.1,626.6 1074.5,620.8 1070.3,614.7 1066.5,608.4 1063,601.9 1060,595.1 1057.4,588.2 1055.2,581.2 1110.7,566 1111.8,569.6 1113.2,573.2 1114.7,576.7 1116.5,580.1 1118.5,583.3 1120.7,586.5 1123,589.5 1125.6,592.3 1128.3,595 1131.2,597.5 1134.2,599.8 1137.4,602 1140.7,603.9 1144.1,605.6 1147.6,607.1 1151.2,608.4 1154.9,609.5 1158.6,610.3 1162.4,610.9 1166.2,611.3 1170,611.4 1173.9,611.3 1177.7,610.9 1181.4,610.4"/>
<polyline class="l" points="1190.5,659.2 1183.7,660.3 1176.8,660.9 1169.9,661.1 1163,660.9 1156.1,660.2 1149.3,659.1 1142.6,657.6 1136,655.7 1129.5,653.4 1123.1,650.7 1117,647.6 1111,644.1 1105.3,640.2 1099.8,636 1094.6,631.5 1089.7,626.7 1085.1,621.5 1080.8,616.1 1076.8,610.5 1073.2,604.6 1070,598.4 1067.2,592.2 1064.8,585.7 1062.7,579.1"/>
<circle class="lw" cx="1169.7" cy="550.3" r="37"/>
<path class="lw" transform="translate(1079 516) rotate(15)" d="M-15 -15Q0 -10.8 15 -15Q10.8 0 15 15Q0 10.8 -15 15Q-10.8 0 -15 -15Z"/>
<path class="lw" transform="translate(1072 542) rotate(-18)" d="M-15 -15Q0 -10.8 15 -15Q10.8 0 15 15Q0 10.8 -15 15Q-10.8 0 -15 -15Z"/>
<path class="lw" transform="translate(1127 652) rotate(25)" d="M-14 -14Q0 -10.1 14 -14Q10.1 0 14 14Q0 10.1 -14 14Q-10.1 0 -14 -14Z"/>
<path class="lw" transform="translate(1156 657) rotate(-8)" d="M-15 -15Q0 -10.8 15 -15Q10.8 0 15 15Q0 10.8 -15 15Q-10.8 0 -15 -15Z"/>
<g transform="translate(1230.6 481) rotate(40)"><rect class="g2w" x="-29" y="-28" width="58" height="56"/><path class="g2" d="M-25 -28V28M25 -28V28M-29 23H29"/><path class="g" d="M-25 23H25V-22"/></g>
<g transform="translate(1255.2 590) rotate(15)"><rect class="g2w" x="-31" y="-27.5" width="62" height="55"/><path class="g2" d="M-27 -27.5V27.5M27 -27.5V27.5M-31 22.5H31"/><path class="g" d="M-27 22.5H27V-21.5"/></g>
<g transform="translate(1446.9 361.8) rotate(25)"><rect class="lw" x="-30" y="-71.3" width="60" height="142.6"/><rect class="l" x="-25.5" y="-66.8" width="51" height="133.6"/><path class="l" d="M-25.5 17.1H25.5"/></g>
<g transform="translate(1540.5 423.7) rotate(34.4)"><rect class="lw" x="-29.7" y="-71.2" width="59.4" height="142.3"/><rect class="l" x="-25.2" y="-66.7" width="50.4" height="133.3"/><path class="l" d="M-25.2 10H25.2"/></g>
<polygon class="lw" points="1687.6,420.7 1902.7,420.7 1902.7,643 1687.6,643 1687.6,624.3 1677.3,624.3 1677.3,583 1687.6,583"/>
<rect class="l" x="1705.3" y="438.7" width="178.7" height="185.6"/>
<rect class="l" x="1731" y="464.2" width="127.5" height="126.8"/>
<polyline class="l" points="1836.2,464.2 1836.2,591"/>
<circle class="l" cx="1794.8" cy="429.4" r="5.6"/>
<circle class="l" cx="1797.6" cy="634.9" r="5.6"/>
<circle class="l" cx="1785.5" cy="634.9" r="2.8"/>
<rect class="lw" x="1516.5" y="851.8" width="252.5" height="37.7"/>
<rect class="l" x="1527.3" y="854.5" width="231" height="31.8"/>
<circle class="l" cx="1536.7" cy="869.3" r="3.5"/>
<circle class="l" cx="1546.9" cy="872.8" r="4.8"/>
<circle class="l" cx="1569" cy="872.6" r="3.5"/>
<circle class="l" cx="1588.1" cy="868.3" r="4.6"/>
<circle class="l" cx="1598.1" cy="873.4" r="3.5"/>
<circle class="l" cx="1612.1" cy="869.9" r="3.5"/>
<circle class="l" cx="1635.2" cy="872.8" r="4.6"/>
<circle class="l" cx="1653.5" cy="869.9" r="3.5"/>
<circle class="l" cx="1670.8" cy="872.6" r="4.6"/>
<circle class="l" cx="1692.6" cy="873.1" r="3.5"/>
<circle class="l" cx="1717.1" cy="868.3" r="4.6"/>
<circle class="l" cx="1729.4" cy="873.1" r="3.5"/>
<circle class="l" cx="1743.7" cy="872.3" r="4.8"/>
<rect class="lw" x="1158" y="931.6" width="334.3" height="16.2"/>
<rect class="lw" x="1158" y="931.6" width="5.6" height="16.2"/>
<rect class="lw" x="1266.2" y="931.6" width="4.7" height="16.2"/>
<rect class="lw" x="1376.6" y="931.6" width="5.3" height="16.2"/>
<rect class="lw" x="1487.6" y="931.6" width="4.7" height="16.2"/>
<rect class="lw" x="1159" y="852.3" width="4.6" height="79.3"/>
<rect class="lw" x="1307.2" y="852.3" width="5" height="79.3"/>
<polyline class="l" points="1161.3,854.1 1166.4,854.3 1171.4,854.8 1176.4,855.6 1181.4,856.7 1186.2,858.2 1191,860 1195.6,862.1 1200,864.5 1204.4,867.2 1208.5,870.1 1212.4,873.3 1216.1,876.8 1219.6,880.5 1222.8,884.4 1225.7,888.5 1228.4,892.9 1230.8,897.3 1232.9,901.9 1234.7,906.7 1236.2,911.5 1237.3,916.5 1238.1,921.5 1238.6,926.5 1238.8,931.6"/>
<polyline class="l" points="1309.7,858.1 1304.9,858.3 1300.1,858.7 1295.4,859.5 1290.7,860.6 1286.1,862 1281.6,863.7 1277.2,865.7 1273,867.9 1268.9,870.5 1265,873.3 1261.2,876.3 1257.7,879.6 1254.4,883.1 1251.4,886.9 1248.6,890.8 1246,894.9 1243.8,899.1 1241.8,903.5 1240.1,908 1238.7,912.6 1237.6,917.3 1236.8,922 1236.4,926.8 1236.2,931.6"/>
<polyline class="sl" points="1323,1061.4 1321.6,1054.7 1320.8,1047.9 1320.6,1041 1321,1034.2 1322,1027.4 1323.5,1020.8 1325.7,1014.3 1328.3,1008 1331.6,1002 1335.3,996.2 1339.6,990.9 1344.2,985.9 1349.3,981.3 1354.8,977.2 1360.6,973.6 1366.7,970.5 1373.1,968 1379.6,966 1386.3,964.6 1393.1,963.8 1400,963.6 1406.8,964 1413.6,965 1420.2,966.5"/>
<polyline class="sl" points="1313.1,1063.9 1311.6,1056.3 1310.6,1048.6 1310.4,1040.9 1310.8,1033.2 1311.9,1025.5 1313.7,1018 1316.1,1010.7 1319.2,1003.6 1322.8,996.8 1327,990.3 1331.8,984.2 1337.1,978.6 1342.9,973.4 1349.1,968.8 1355.6,964.7 1362.5,961.2 1369.7,958.4 1377.1,956.1 1384.7,954.6 1392.4,953.6 1400.1,953.4 1407.8,953.8 1415.5,954.9 1423,956.7"/>
<polyline class="sl" points="1399,1042 1313.1,1063.9"/>
<polyline class="sl" points="1399,1042 1313.7,1018"/>
<polyline class="sl" points="1399,1042 1337.1,978.6"/>
<polyline class="sl" points="1399,1042 1377.1,956.1"/>
<polyline class="sl" points="1399,1042 1423,956.7"/>
<polyline class="d" points="1423,956.7 1437.4,962.2 1450.7,970 1462.4,980.1 1472.2,992.1 1479.8,1005.5 1484.9,1020.1 1487.4,1035.4 1487.2,1050.8 1484.3,1066 1478.8,1080.4 1471,1093.7 1460.9,1105.4 1448.9,1115.2 1435.5,1122.8 1420.9,1127.9 1405.6,1130.4 1390.2,1130.2 1375,1127.3 1360.6,1121.8 1347.3,1114 1335.6,1103.9 1325.8,1091.9 1318.2,1078.5 1313.1,1063.9"/>
<polyline class="d" points="1405.4,1035.7 1462.4,980.1"/>
<polyline class="d" points="1407.7,1039.8 1484.9,1020.1"/>
<polyline class="d" points="1407.7,1044.4 1484.3,1066"/>
<polyline class="d" points="1405.3,1048.4 1460.9,1105.4"/>
<polyline class="d" points="1401.2,1050.7 1420.9,1127.9"/>
<polyline class="d" points="1396.6,1050.7 1375,1127.3"/>
<polyline class="d" points="1392.6,1048.3 1335.6,1103.9"/>
<circle class="sh" cx="1399" cy="1042" r="7"/>
<polyline class="l" points="1459.4,976.6 1465.9,983.1"/>
<rect class="lw" x="1200.5" y="1176.4" width="192.4" height="201.9"/>
<g transform="translate(1218.3 1172.4) rotate(108)"><rect class="g2w" x="-29.2" y="-26.8" width="58.3" height="53.6"/><path class="g2" d="M-25.2 -26.8V26.8M25.2 -26.8V26.8M-29.2 21.8H29.2"/><path class="g" d="M-25.2 21.8H25.2V-20.8"/></g>
<g transform="translate(1279.8 1195.5) rotate(23)"><rect class="lw" x="-21.1" y="-23.2" width="42.1" height="46.4"/><rect class="l" x="-17" y="-19.2" width="34" height="38.3"/></g>
<g transform="translate(1279.8 1195.5) rotate(23)"><rect class="l" x="-19.7" y="-21.8" width="39.3" height="43.6"/></g>
<rect class="lw" x="1256.4" y="1247.1" width="84" height="62.6"/>
<g transform="translate(1294 1277.1) rotate(-32)"><rect class="lw" x="-14.9" y="-11.9" width="29.8" height="23.8"/></g>
<g transform="translate(1293.3 1281.2) rotate(-25)"><rect class="lw" x="-11.3" y="-10.1" width="22.6" height="20.2"/></g>
<polygon class="lw" points="1162.4,1246.7 1234.5,1246.7 1234.5,1327.6 1329.8,1327.6 1329.8,1399 1162.4,1399"/>
<polyline class="l" points="1170.5,1246.7 1170.5,1390.5 1321.4,1390.5 1321.4,1327.6"/>
<polyline class="g" points="1172.9,1246.7 1172.9,1387.6 1318.6,1387.6 1318.6,1327.6"/>
<polyline class="l" points="1172.9,1327.6 1234.5,1327.6"/>
<polyline class="g" points="1234.5,1327.6 1234.5,1372.4"/>
<polyline class="l" points="1202.4,1372.4 1290.5,1372.4"/>
<polyline class="l" points="1170.5,1247.1 1234,1247.1 1234,1327.6"/>
<path class="lw" transform="translate(1187.6 1376) rotate(22)" d="M-17.9 -17.9Q0 -12.9 17.9 -17.9Q12.9 0 17.9 17.9Q0 12.9 -17.9 17.9Q-12.9 0 -17.9 -17.9Z"/>
<path class="lw" transform="translate(1305.2 1376) rotate(-22)" d="M-17.9 -17.9Q0 -12.9 17.9 -17.9Q12.9 0 17.9 17.9Q0 12.9 -17.9 17.9Q-12.9 0 -17.9 -17.9Z"/>
<rect class="lw" x="1477.4" y="1310.5" width="10.2" height="5.2"/>
<rect class="lw" x="1477.4" y="1389.5" width="10.2" height="7.1"/>
<rect class="lw" x="1400.5" y="1387.6" width="76.9" height="4.8"/>
<polyline class="l" points="1400.5,1390 1400.6,1385 1401.1,1380 1402,1375 1403.1,1370.1 1404.6,1365.3 1406.3,1360.6 1408.4,1356 1410.8,1351.5 1413.4,1347.3 1416.4,1343.2 1419.6,1339.3 1423,1335.6 1426.7,1332.2 1430.6,1329 1434.7,1326.1 1438.9,1323.4 1443.4,1321 1448,1318.9 1452.7,1317.2 1457.5,1315.7 1462.4,1314.6 1467.3,1313.8 1472.4,1313.3 1477.4,1313.1"/>
<path class="pl" transform="translate(904 1563) rotate(0)" d="M0 0L0 -41M0 -16.4 Q-6.9 -20.2 -11.1 -13.1 Q-5.5 -17.1 0 -14.4M0 -16.4 Q6.9 -20.2 11.1 -13.1 Q5.5 -17.1 0 -14.4M0 -21.1 Q-6 -24.4 -9.7 -18.2 Q-4.8 -21.7 0 -19.4M0 -21.1 Q6 -24.4 9.7 -18.2 Q4.8 -21.7 0 -19.4M0 -25.8 Q-5.1 -28.6 -8.3 -23.3 Q-4.1 -26.3 0 -24.3M0 -25.8 Q5.1 -28.6 8.3 -23.3 Q4.1 -26.3 0 -24.3M0 -30.5 Q-4.3 -32.9 -6.9 -28.5 Q-3.4 -31 0 -29.3M0 -30.5 Q4.3 -32.9 6.9 -28.5 Q3.4 -31 0 -29.3M0 -35.3 Q-3.4 -37.1 -5.5 -33.6 Q-2.7 -35.6 0 -34.3M0 -35.3 Q3.4 -37.1 5.5 -33.6 Q2.7 -35.6 0 -34.3M0 -40 Q-2.5 -41.4 -4.1 -38.7 Q-2.1 -40.2 0 -39.2M0 -40 Q2.5 -41.4 4.1 -38.7 Q2.1 -40.2 0 -39.2M0 -41 l-2.1 -2.9 M0 -41 l2.1 -2.9M0 -1.6 Q-18 -0.8 -14.8 -18 Q-9 -6.6 0 -4.1M-2.1 -4.9 Q-10.7 -6.6 -8.2 -14.8 Q-5.7 -9 -2.1 -7.4M0 -1.6 Q18 -0.8 14.8 -18 Q9 -6.6 0 -4.1M2.1 -4.9 Q10.7 -6.6 8.2 -14.8 Q5.7 -9 2.1 -7.4M16.4 -16.4 Q24.6 -18 26.2 -26.2 Q21.3 -20.5 16.4 -16.4"/>
<path class="pl" transform="translate(904 1563) rotate(90)" d="M0 0L0 -41M0 -16.4 Q-6.9 -20.2 -11.1 -13.1 Q-5.5 -17.1 0 -14.4M0 -16.4 Q6.9 -20.2 11.1 -13.1 Q5.5 -17.1 0 -14.4M0 -21.1 Q-6 -24.4 -9.7 -18.2 Q-4.8 -21.7 0 -19.4M0 -21.1 Q6 -24.4 9.7 -18.2 Q4.8 -21.7 0 -19.4M0 -25.8 Q-5.1 -28.6 -8.3 -23.3 Q-4.1 -26.3 0 -24.3M0 -25.8 Q5.1 -28.6 8.3 -23.3 Q4.1 -26.3 0 -24.3M0 -30.5 Q-4.3 -32.9 -6.9 -28.5 Q-3.4 -31 0 -29.3M0 -30.5 Q4.3 -32.9 6.9 -28.5 Q3.4 -31 0 -29.3M0 -35.3 Q-3.4 -37.1 -5.5 -33.6 Q-2.7 -35.6 0 -34.3M0 -35.3 Q3.4 -37.1 5.5 -33.6 Q2.7 -35.6 0 -34.3M0 -40 Q-2.5 -41.4 -4.1 -38.7 Q-2.1 -40.2 0 -39.2M0 -40 Q2.5 -41.4 4.1 -38.7 Q2.1 -40.2 0 -39.2M0 -41 l-2.1 -2.9 M0 -41 l2.1 -2.9M0 -1.6 Q-18 -0.8 -14.8 -18 Q-9 -6.6 0 -4.1M-2.1 -4.9 Q-10.7 -6.6 -8.2 -14.8 Q-5.7 -9 -2.1 -7.4M0 -1.6 Q18 -0.8 14.8 -18 Q9 -6.6 0 -4.1M2.1 -4.9 Q10.7 -6.6 8.2 -14.8 Q5.7 -9 2.1 -7.4M16.4 -16.4 Q24.6 -18 26.2 -26.2 Q21.3 -20.5 16.4 -16.4"/>
<path class="pl" transform="translate(904 1563) rotate(180)" d="M0 0L0 -41M0 -16.4 Q-6.9 -20.2 -11.1 -13.1 Q-5.5 -17.1 0 -14.4M0 -16.4 Q6.9 -20.2 11.1 -13.1 Q5.5 -17.1 0 -14.4M0 -21.1 Q-6 -24.4 -9.7 -18.2 Q-4.8 -21.7 0 -19.4M0 -21.1 Q6 -24.4 9.7 -18.2 Q4.8 -21.7 0 -19.4M0 -25.8 Q-5.1 -28.6 -8.3 -23.3 Q-4.1 -26.3 0 -24.3M0 -25.8 Q5.1 -28.6 8.3 -23.3 Q4.1 -26.3 0 -24.3M0 -30.5 Q-4.3 -32.9 -6.9 -28.5 Q-3.4 -31 0 -29.3M0 -30.5 Q4.3 -32.9 6.9 -28.5 Q3.4 -31 0 -29.3M0 -35.3 Q-3.4 -37.1 -5.5 -33.6 Q-2.7 -35.6 0 -34.3M0 -35.3 Q3.4 -37.1 5.5 -33.6 Q2.7 -35.6 0 -34.3M0 -40 Q-2.5 -41.4 -4.1 -38.7 Q-2.1 -40.2 0 -39.2M0 -40 Q2.5 -41.4 4.1 -38.7 Q2.1 -40.2 0 -39.2M0 -41 l-2.1 -2.9 M0 -41 l2.1 -2.9M0 -1.6 Q-18 -0.8 -14.8 -18 Q-9 -6.6 0 -4.1M-2.1 -4.9 Q-10.7 -6.6 -8.2 -14.8 Q-5.7 -9 -2.1 -7.4M0 -1.6 Q18 -0.8 14.8 -18 Q9 -6.6 0 -4.1M2.1 -4.9 Q10.7 -6.6 8.2 -14.8 Q5.7 -9 2.1 -7.4M16.4 -16.4 Q24.6 -18 26.2 -26.2 Q21.3 -20.5 16.4 -16.4"/>
<path class="pl" transform="translate(904 1563) rotate(270)" d="M0 0L0 -41M0 -16.4 Q-6.9 -20.2 -11.1 -13.1 Q-5.5 -17.1 0 -14.4M0 -16.4 Q6.9 -20.2 11.1 -13.1 Q5.5 -17.1 0 -14.4M0 -21.1 Q-6 -24.4 -9.7 -18.2 Q-4.8 -21.7 0 -19.4M0 -21.1 Q6 -24.4 9.7 -18.2 Q4.8 -21.7 0 -19.4M0 -25.8 Q-5.1 -28.6 -8.3 -23.3 Q-4.1 -26.3 0 -24.3M0 -25.8 Q5.1 -28.6 8.3 -23.3 Q4.1 -26.3 0 -24.3M0 -30.5 Q-4.3 -32.9 -6.9 -28.5 Q-3.4 -31 0 -29.3M0 -30.5 Q4.3 -32.9 6.9 -28.5 Q3.4 -31 0 -29.3M0 -35.3 Q-3.4 -37.1 -5.5 -33.6 Q-2.7 -35.6 0 -34.3M0 -35.3 Q3.4 -37.1 5.5 -33.6 Q2.7 -35.6 0 -34.3M0 -40 Q-2.5 -41.4 -4.1 -38.7 Q-2.1 -40.2 0 -39.2M0 -40 Q2.5 -41.4 4.1 -38.7 Q2.1 -40.2 0 -39.2M0 -41 l-2.1 -2.9 M0 -41 l2.1 -2.9M0 -1.6 Q-18 -0.8 -14.8 -18 Q-9 -6.6 0 -4.1M-2.1 -4.9 Q-10.7 -6.6 -8.2 -14.8 Q-5.7 -9 -2.1 -7.4M0 -1.6 Q18 -0.8 14.8 -18 Q9 -6.6 0 -4.1M2.1 -4.9 Q10.7 -6.6 8.2 -14.8 Q5.7 -9 2.1 -7.4M16.4 -16.4 Q24.6 -18 26.2 -26.2 Q21.3 -20.5 16.4 -16.4"/>
<path class="pl" transform="translate(2178.7 1558.4) rotate(2)" d="M0 0L0 -41M0 -16.4 Q-6.9 -20.2 -11.1 -13.1 Q-5.5 -17.1 0 -14.4M0 -16.4 Q6.9 -20.2 11.1 -13.1 Q5.5 -17.1 0 -14.4M0 -21.1 Q-6 -24.4 -9.7 -18.2 Q-4.8 -21.7 0 -19.4M0 -21.1 Q6 -24.4 9.7 -18.2 Q4.8 -21.7 0 -19.4M0 -25.8 Q-5.1 -28.6 -8.3 -23.3 Q-4.1 -26.3 0 -24.3M0 -25.8 Q5.1 -28.6 8.3 -23.3 Q4.1 -26.3 0 -24.3M0 -30.5 Q-4.3 -32.9 -6.9 -28.5 Q-3.4 -31 0 -29.3M0 -30.5 Q4.3 -32.9 6.9 -28.5 Q3.4 -31 0 -29.3M0 -35.3 Q-3.4 -37.1 -5.5 -33.6 Q-2.7 -35.6 0 -34.3M0 -35.3 Q3.4 -37.1 5.5 -33.6 Q2.7 -35.6 0 -34.3M0 -40 Q-2.5 -41.4 -4.1 -38.7 Q-2.1 -40.2 0 -39.2M0 -40 Q2.5 -41.4 4.1 -38.7 Q2.1 -40.2 0 -39.2M0 -41 l-2.1 -2.9 M0 -41 l2.1 -2.9M0 -1.6 Q-18 -0.8 -14.8 -18 Q-9 -6.6 0 -4.1M-2.1 -4.9 Q-10.7 -6.6 -8.2 -14.8 Q-5.7 -9 -2.1 -7.4M0 -1.6 Q18 -0.8 14.8 -18 Q9 -6.6 0 -4.1M2.1 -4.9 Q10.7 -6.6 8.2 -14.8 Q5.7 -9 2.1 -7.4M16.4 -16.4 Q24.6 -18 26.2 -26.2 Q21.3 -20.5 16.4 -16.4"/>
<path class="pl" transform="translate(2178.7 1558.4) rotate(92)" d="M0 0L0 -41M0 -16.4 Q-6.9 -20.2 -11.1 -13.1 Q-5.5 -17.1 0 -14.4M0 -16.4 Q6.9 -20.2 11.1 -13.1 Q5.5 -17.1 0 -14.4M0 -21.1 Q-6 -24.4 -9.7 -18.2 Q-4.8 -21.7 0 -19.4M0 -21.1 Q6 -24.4 9.7 -18.2 Q4.8 -21.7 0 -19.4M0 -25.8 Q-5.1 -28.6 -8.3 -23.3 Q-4.1 -26.3 0 -24.3M0 -25.8 Q5.1 -28.6 8.3 -23.3 Q4.1 -26.3 0 -24.3M0 -30.5 Q-4.3 -32.9 -6.9 -28.5 Q-3.4 -31 0 -29.3M0 -30.5 Q4.3 -32.9 6.9 -28.5 Q3.4 -31 0 -29.3M0 -35.3 Q-3.4 -37.1 -5.5 -33.6 Q-2.7 -35.6 0 -34.3M0 -35.3 Q3.4 -37.1 5.5 -33.6 Q2.7 -35.6 0 -34.3M0 -40 Q-2.5 -41.4 -4.1 -38.7 Q-2.1 -40.2 0 -39.2M0 -40 Q2.5 -41.4 4.1 -38.7 Q2.1 -40.2 0 -39.2M0 -41 l-2.1 -2.9 M0 -41 l2.1 -2.9M0 -1.6 Q-18 -0.8 -14.8 -18 Q-9 -6.6 0 -4.1M-2.1 -4.9 Q-10.7 -6.6 -8.2 -14.8 Q-5.7 -9 -2.1 -7.4M0 -1.6 Q18 -0.8 14.8 -18 Q9 -6.6 0 -4.1M2.1 -4.9 Q10.7 -6.6 8.2 -14.8 Q5.7 -9 2.1 -7.4M16.4 -16.4 Q24.6 -18 26.2 -26.2 Q21.3 -20.5 16.4 -16.4"/>
<path class="pl" transform="translate(2178.7 1558.4) rotate(182)" d="M0 0L0 -41M0 -16.4 Q-6.9 -20.2 -11.1 -13.1 Q-5.5 -17.1 0 -14.4M0 -16.4 Q6.9 -20.2 11.1 -13.1 Q5.5 -17.1 0 -14.4M0 -21.1 Q-6 -24.4 -9.7 -18.2 Q-4.8 -21.7 0 -19.4M0 -21.1 Q6 -24.4 9.7 -18.2 Q4.8 -21.7 0 -19.4M0 -25.8 Q-5.1 -28.6 -8.3 -23.3 Q-4.1 -26.3 0 -24.3M0 -25.8 Q5.1 -28.6 8.3 -23.3 Q4.1 -26.3 0 -24.3M0 -30.5 Q-4.3 -32.9 -6.9 -28.5 Q-3.4 -31 0 -29.3M0 -30.5 Q4.3 -32.9 6.9 -28.5 Q3.4 -31 0 -29.3M0 -35.3 Q-3.4 -37.1 -5.5 -33.6 Q-2.7 -35.6 0 -34.3M0 -35.3 Q3.4 -37.1 5.5 -33.6 Q2.7 -35.6 0 -34.3M0 -40 Q-2.5 -41.4 -4.1 -38.7 Q-2.1 -40.2 0 -39.2M0 -40 Q2.5 -41.4 4.1 -38.7 Q2.1 -40.2 0 -39.2M0 -41 l-2.1 -2.9 M0 -41 l2.1 -2.9M0 -1.6 Q-18 -0.8 -14.8 -18 Q-9 -6.6 0 -4.1M-2.1 -4.9 Q-10.7 -6.6 -8.2 -14.8 Q-5.7 -9 -2.1 -7.4M0 -1.6 Q18 -0.8 14.8 -18 Q9 -6.6 0 -4.1M2.1 -4.9 Q10.7 -6.6 8.2 -14.8 Q5.7 -9 2.1 -7.4M16.4 -16.4 Q24.6 -18 26.2 -26.2 Q21.3 -20.5 16.4 -16.4"/>
<path class="pl" transform="translate(2178.7 1558.4) rotate(272)" d="M0 0L0 -41M0 -16.4 Q-6.9 -20.2 -11.1 -13.1 Q-5.5 -17.1 0 -14.4M0 -16.4 Q6.9 -20.2 11.1 -13.1 Q5.5 -17.1 0 -14.4M0 -21.1 Q-6 -24.4 -9.7 -18.2 Q-4.8 -21.7 0 -19.4M0 -21.1 Q6 -24.4 9.7 -18.2 Q4.8 -21.7 0 -19.4M0 -25.8 Q-5.1 -28.6 -8.3 -23.3 Q-4.1 -26.3 0 -24.3M0 -25.8 Q5.1 -28.6 8.3 -23.3 Q4.1 -26.3 0 -24.3M0 -30.5 Q-4.3 -32.9 -6.9 -28.5 Q-3.4 -31 0 -29.3M0 -30.5 Q4.3 -32.9 6.9 -28.5 Q3.4 -31 0 -29.3M0 -35.3 Q-3.4 -37.1 -5.5 -33.6 Q-2.7 -35.6 0 -34.3M0 -35.3 Q3.4 -37.1 5.5 -33.6 Q2.7 -35.6 0 -34.3M0 -40 Q-2.5 -41.4 -4.1 -38.7 Q-2.1 -40.2 0 -39.2M0 -40 Q2.5 -41.4 4.1 -38.7 Q2.1 -40.2 0 -39.2M0 -41 l-2.1 -2.9 M0 -41 l2.1 -2.9M0 -1.6 Q-18 -0.8 -14.8 -18 Q-9 -6.6 0 -4.1M-2.1 -4.9 Q-10.7 -6.6 -8.2 -14.8 Q-5.7 -9 -2.1 -7.4M0 -1.6 Q18 -0.8 14.8 -18 Q9 -6.6 0 -4.1M2.1 -4.9 Q10.7 -6.6 8.2 -14.8 Q5.7 -9 2.1 -7.4M16.4 -16.4 Q24.6 -18 26.2 -26.2 Q21.3 -20.5 16.4 -16.4"/>
<circle class="lw" cx="1139.2" cy="1563.9" r="29.7"/>
<polyline class="l" points="1161.8,1572.1 1160.8,1574.4 1159.6,1576.5 1158.2,1578.5 1156.7,1580.4 1154.9,1582.1 1153,1583.6 1150.9,1584.9 1148.7,1585.9 1146.4,1586.8 1144.1,1587.4 1141.6,1587.8 1139.2,1587.9 1136.8,1587.8 1134.3,1587.4 1132,1586.8 1129.7,1585.9 1127.5,1584.9 1125.4,1583.6 1123.5,1582.1 1121.7,1580.4 1120.2,1578.5 1118.8,1576.5 1117.6,1574.4 1116.6,1572.1"/>
<path class="lw" transform="translate(1132 1560) rotate(-8)" d="M-12 -12Q0 -8.6 12 -12Q8.6 0 12 12Q0 8.6 -12 12Q-8.6 0 -12 -12Z"/>
<rect class="lw" x="1196.5" y="1515.3" width="43.4" height="85.6" rx="21.7"/>
<rect class="l" x="1202.5" y="1552" width="24" height="21" transform="rotate(-3 1214.5 1562.5)"/>
<g transform="translate(1309.5 1565) rotate(-40)"><rect class="lw" x="-52" y="-30" width="104" height="60" rx="30"/><path class="l" d="M-40 22 H30 A22 22 0 0 0 48 -6"/></g>
<path class="lw" transform="translate(1311 1583) rotate(12)" d="M-13 -13Q0 -9.4 13 -13Q9.4 0 13 13Q0 9.4 -13 13Q-9.4 0 -13 -13Z"/>
<path class="lw" transform="translate(1291 1596) rotate(-30)" d="M-12 -12Q0 -8.6 12 -12Q8.6 0 12 12Q0 8.6 -12 12Q-8.6 0 -12 -12Z"/>
<rect class="gw" x="1791.8" y="1510.6" width="56" height="41.6"/>
<g transform="translate(1758.7 1567.8) rotate(45)"><rect class="gw" x="-24.3" y="-24.3" width="48.6" height="48.6"/><path class="l" d="M-14.6 -18.5V18.5H18.5V-14.6"/></g>
<g transform="translate(1885 1567.8) rotate(-45)"><rect class="gw" x="-24.3" y="-24.3" width="48.6" height="48.6"/><path class="l" d="M-14.6 -18.5V18.5H18.5V-14.6"/></g>
<rect class="lw" x="2243.4" y="1495.5" width="16.4" height="127.2"/>
<polyline class="g" points="2250.1,1502 2250.1,1615.7"/>
<polyline class="g" points="2252.6,1502 2252.6,1615.7"/>
<polyline class="l" points="2243.4,1502 2259.8,1502"/>
<polyline class="l" points="2243.4,1555.4 2259.8,1555.4"/>
<polyline class="l" points="2243.4,1562.1 2259.8,1562.1"/>
<polyline class="l" points="2243.4,1615.7 2259.8,1615.7"/>
<polyline class="l" points="2259.8,1478.2 822.4,1478.2 822.4,2180"/>
<polyline class="l" points="2259.8,1486.6 830.2,1486.6 830.2,2180"/>
<polyline class="l" points="2259.8,1490.7 835.3,1490.7 835.3,2180"/>
<polyline class="l" points="822.4,2177.7 822.4,2183.6 724.1,2241.1 823.6,2534.5"/>
<polyline class="l" points="830.2,2177.7 830.2,2187.8 733.4,2244.6 830.2,2531.4"/>
<polyline class="l" points="835.3,2177.7 835.3,2190.9 737.7,2247.7 835.3,2528.7"/>
<polyline class="d" points="835.3,1846.4 835.3,2186.5"/>
<rect class="lw" x="838" y="2527.5" width="103" height="16.7"/>
<rect class="g" x="844.6" y="2527.5" width="89.8" height="16.7"/>
<polyline class="g" points="844.6,2535.7 934.4,2535.7"/>
<rect class="g2w" x="1043.9" y="1629.3" width="195.7" height="16.1"/>
<polyline class="g2" points="1043.9,1635.3 1239.6,1635.3"/>
<polyline class="g2" points="1043.9,1640.3 1239.6,1640.3"/>
<rect class="gw" x="1043.9" y="1629.3" width="3.5" height="16.1"/>
<rect class="gw" x="1236.1" y="1629.3" width="3.5" height="16.1"/>
<rect class="gw" x="1140" y="1629.3" width="4" height="16.1"/>
<rect class="g2w" x="1407.3" y="1629.3" width="82.3" height="16.1"/>
<polyline class="g2" points="1407.3,1635.3 1489.6,1635.3"/>
<polyline class="g2" points="1407.3,1640.3 1489.6,1640.3"/>
<rect class="gw" x="1407.3" y="1629.3" width="3.5" height="16.1"/>
<rect class="gw" x="1486.1" y="1629.3" width="3.5" height="16.1"/>
<rect class="g2w" x="1639" y="1629.3" width="154.3" height="16.1"/>
<polyline class="g2" points="1639,1635.3 1793.3,1635.3"/>
<polyline class="g2" points="1639,1640.3 1793.3,1640.3"/>
<rect class="gw" x="1639" y="1629.3" width="3.5" height="16.1"/>
<rect class="gw" x="1789.8" y="1629.3" width="3.5" height="16.1"/>
<rect class="gw" x="1720" y="1629.3" width="4" height="16.1"/>
<rect class="g2w" x="1850.8" y="1629.3" width="191.2" height="16.1"/>
<polyline class="g2" points="1850.8,1635.3 2042,1635.3"/>
<polyline class="g2" points="1850.8,1640.3 2042,1640.3"/>
<rect class="gw" x="1850.8" y="1629.3" width="3.5" height="16.1"/>
<rect class="gw" x="2038.5" y="1629.3" width="3.5" height="16.1"/>
<rect class="gw" x="1944" y="1629.3" width="4" height="16.1"/>
<rect class="g2w" x="945.5" y="1715" width="17.3" height="387.9"/>
<polyline class="g2" points="952.1,1715 952.1,2102.9"/>
<polyline class="g2" points="957.1,1715 957.1,2102.9"/>
<rect class="gw" x="945.5" y="1715" width="17.3" height="3.5"/>
<rect class="gw" x="945.5" y="2099.4" width="17.3" height="3.5"/>
<rect class="gw" x="945.5" y="1807" width="17.3" height="4"/>
<rect class="gw" x="945.5" y="1906" width="17.3" height="4"/>
<rect class="gw" x="945.5" y="2001" width="17.3" height="4"/>
<rect class="g2w" x="945.5" y="2319.6" width="17.3" height="194.3"/>
<polyline class="g2" points="952.1,2319.6 952.1,2513.9"/>
<polyline class="g2" points="957.1,2319.6 957.1,2513.9"/>
<rect class="gw" x="945.5" y="2319.6" width="17.3" height="3.5"/>
<rect class="gw" x="945.5" y="2510.4" width="17.3" height="3.5"/>
<rect class="gw" x="945.5" y="2414" width="17.3" height="4"/>
<g transform="translate(1115.1 1773.7) rotate(0)"><rect class="lw" x="-18.8" y="-86" width="37.6" height="32"/><rect class="l" x="-14" y="-81.5" width="28" height="27"/></g>
<g transform="translate(1115.1 1773.7) rotate(51.4)"><rect class="lw" x="-18.8" y="-86" width="37.6" height="32"/><rect class="l" x="-14" y="-81.5" width="28" height="27"/></g>
<g transform="translate(1115.1 1773.7) rotate(102.9)"><rect class="lw" x="-18.8" y="-86" width="37.6" height="32"/><rect class="l" x="-14" y="-81.5" width="28" height="27"/></g>
<g transform="translate(1115.1 1773.7) rotate(154.3)"><rect class="lw" x="-18.8" y="-86" width="37.6" height="32"/><rect class="l" x="-14" y="-81.5" width="28" height="27"/></g>
<g transform="translate(1115.1 1773.7) rotate(205.7)"><rect class="lw" x="-18.8" y="-86" width="37.6" height="32"/><rect class="l" x="-14" y="-81.5" width="28" height="27"/></g>
<g transform="translate(1115.1 1773.7) rotate(257.1)"><rect class="lw" x="-18.8" y="-86" width="37.6" height="32"/><rect class="l" x="-14" y="-81.5" width="28" height="27"/></g>
<g transform="translate(1115.1 1773.7) rotate(308.6)"><rect class="lw" x="-18.8" y="-86" width="37.6" height="32"/><rect class="l" x="-14" y="-81.5" width="28" height="27"/></g>
<circle class="lw" cx="1115.1" cy="1773.7" r="67.2"/>
<rect class="lw" x="1282.2" y="1682.4" width="24.9" height="37.7"/>
<rect class="l" x="1287.5" y="1686.9" width="19.6" height="28.7"/>
<rect class="lw" x="1282.2" y="1737.6" width="24.9" height="36.9"/>
<rect class="l" x="1287.5" y="1742.1" width="19.6" height="27.9"/>
<rect class="lw" x="1282.2" y="1792" width="24.9" height="36.9"/>
<rect class="l" x="1287.5" y="1796.5" width="19.6" height="27.9"/>
<rect class="lw" x="1282.2" y="1846.4" width="24.9" height="37"/>
<rect class="l" x="1287.5" y="1850.9" width="19.6" height="28"/>
<rect class="lw" x="1307.1" y="1644.3" width="83.5" height="270.9"/>
<rect class="gw" x="1351.8" y="1742.3" width="38.8" height="57.5"/>
<polyline class="g2" points="1351.8,1742.3 1390.6,1799.8"/>
<polyline class="g2" points="1351.8,1799.8 1390.6,1742.3"/>
<circle class="lw" cx="1371.3" cy="1771" r="2.6"/>
<polyline class="l" points="1345,1771 1368.5,1771"/>
<circle class="l" cx="1345" cy="1771" r="3.2"/>
<rect class="l" x="1343.6" y="1769" width="3" height="9"/>
<rect class="gw" x="1390.6" y="1815.3" width="3.9" height="49.7"/>
<rect class="gw" x="1490.2" y="1645.5" width="49.7" height="291.5"/>
<rect class="lw" x="1491.3" y="1739.5" width="46.6" height="63.4"/>
<rect class="g" x="1493.3" y="1742.3" width="42.8" height="57.9"/>
<circle class="l" cx="1504.2" cy="1759" r="8.2"/>
<circle class="l" cx="1524.4" cy="1759" r="5.8"/>
<circle class="l" cx="1504.2" cy="1783.5" r="5.8"/>
<circle class="l" cx="1524.4" cy="1783.5" r="8.2"/>
<rect class="lw" x="1490.2" y="1939.7" width="48.6" height="73.8"/>
<polyline class="l" points="1493.3,1939.7 1493.3,2013.5"/>
<rect class="lw" x="1486.3" y="1989.4" width="3.9" height="3.9"/>
<rect class="lw" x="1017.3" y="1977.1" width="238.4" height="259.3"/>
<rect class="lw" x="1041.2" y="1940.1" width="170.7" height="73.4"/>
<polyline class="l" points="1049.5,2013.6 1049.5,1948.8 1203.6,1948.8 1203.6,2013.6"/>
<polyline class="g" points="1051.8,2013.6 1051.8,1950.7 1201.3,1950.7 1201.3,2013.6"/>
<polyline class="l" points="1051.8,1953.7 1201.3,1953.7"/>
<polyline class="l" points="1087.2,1967.6 1164,1967.6"/>
<path class="lw" transform="translate(1065.6 1964.5) rotate(-22)" d="M-18.2 -18.2Q0 -13.1 18.2 -18.2Q13.1 0 18.2 18.2Q0 13.1 -18.2 18.2Q-13.1 0 -18.2 -18.2Z"/>
<path class="lw" transform="translate(1185.6 1964.5) rotate(22)" d="M-18.2 -18.2Q0 -13.1 18.2 -18.2Q13.1 0 18.2 18.2Q0 13.1 -18.2 18.2Q-13.1 0 -18.2 -18.2Z"/>
<rect class="gw" x="1173.2" y="2065.2" width="40.3" height="81.7"/>
<rect class="lw" x="1074.4" y="2055.4" width="98.8" height="101.4"/>
<rect class="lw" x="1105.5" y="2074.4" width="26.8" height="38.4" transform="rotate(-31 1118.9 2093.5)"/>
<rect class="lw" x="1112.7" y="2079.2" width="24" height="30.7" transform="rotate(-23 1124.6 2094.5)"/>
<rect class="lw" x="1235.5" y="1995.4" width="71.3" height="226.1"/>
<polyline class="l" points="1235.5,2003.8 1298.8,2003.8 1298.8,2213.4 1235.5,2213.4"/>
<polyline class="g" points="1235.5,2005.5 1296.8,2005.5 1296.8,2211.5 1235.5,2211.5"/>
<polyline class="l" points="1293.4,2005.5 1293.4,2211.5"/>
<polyline class="g" points="1279.6,2035.1 1279.6,2188.5"/>
<polyline class="l" points="1235.5,2074 1279.6,2074"/>
<polyline class="l" points="1235.5,2142.4 1279.6,2142.4"/>
<path class="lw" transform="translate(1282.8 2021.2) rotate(28)" d="M-17.3 -17.3Q0 -12.4 17.3 -17.3Q12.4 0 17.3 17.3Q0 12.4 -17.3 17.3Q-12.4 0 -17.3 -17.3Z"/>
<path class="lw" transform="translate(1277.7 2167.7) rotate(-12)" d="M-16.3 -16.3Q0 -11.7 16.3 -16.3Q11.7 0 16.3 16.3Q0 11.7 -16.3 16.3Q-11.7 0 -16.3 -16.3Z"/>
<path class="lw" transform="translate(1280.3 2196.1) rotate(30)" d="M-18.2 -18.2Q0 -13.1 18.2 -18.2Q13.1 0 18.2 18.2Q0 13.1 -18.2 18.2Q-13.1 0 -18.2 -18.2Z"/>
<polygon class="g2w" points="1049.5,2202.3 1110.8,2202.3 1107.2,2263.2 1053.2,2263.2"/>
<polyline class="g2" points="1055.6,2202.3 1059.3,2259.6 1101,2259.6 1104.7,2202.3"/>
<polyline class="g2" points="1057.4,2245.6 1102.9,2245.6"/>
<polyline class="l" points="1104.7,2202.3 1101.6,2257.1"/>
<polyline class="l" points="1104.7,2202.3 1110.8,2202.3"/>
<polygon class="g2w" points="1142.3,2202.3 1203.6,2202.3 1200,2263.2 1146,2263.2"/>
<polyline class="g2" points="1148.4,2202.3 1152.1,2259.6 1193.8,2259.6 1197.5,2202.3"/>
<polyline class="g2" points="1150.3,2245.6 1195.7,2245.6"/>
<polyline class="l" points="1197.5,2202.3 1194.4,2257.1"/>
<polyline class="l" points="1197.5,2202.3 1203.6,2202.3"/>
<rect class="lw" x="1071.9" y="2287.3" width="154.7" height="27.6"/>
<polyline class="l" points="1092.5,2297.4 1104.2,2291.2 1195.5,2291.2 1207.2,2297.4 1092.5,2297.4"/>
<rect class="lw" x="1557.4" y="1691.4" width="36.1" height="36.1"/>
<rect class="lw" x="1557.4" y="1857.2" width="36.1" height="36.1"/>
<rect class="g2w" x="1555.4" y="1732" width="50.1" height="120.5"/>
<rect class="g2w" x="1559.6" y="1736.2" width="42.3" height="52.2"/>
<rect class="g2w" x="1559.6" y="1795.9" width="42.3" height="52.7"/>
<rect class="g2w" x="1630.9" y="1732.5" width="85.7" height="120" rx="7"/>
<rect class="g2w" x="1605.5" y="1730.7" width="25.4" height="123.7"/>
<polyline class="l" points="1605.5,1730.7 1605.5,1854.4"/>
<polyline class="l" points="1630.9,1852.6 1709.1,1852.6"/>
<polyline class="l" points="1581.5,1732.5 1605.5,1732.5"/>
<polyline class="g" points="1575.3,1709.3 1575.3,1736.4"/>
<circle class="l" cx="1575.3" cy="1709.3" r="5"/>
<rect class="lw" x="1573.2" y="1730.4" width="4.6" height="12.1"/>
<polyline class="g" points="1575.3,1875.1 1575.3,1848.3"/>
<circle class="l" cx="1575.3" cy="1875.1" r="5"/>
<rect class="lw" x="1573.2" y="1842.3" width="4.6" height="11.9"/>
<rect class="lw" x="1799.5" y="1731.2" width="2.5" height="116.1"/>
<polyline class="l" points="1802,1737.8 1806.1,1749.4 1806.1,1830.7 1802,1841.5"/>
<rect class="lw" x="1802.5" y="1864.7" width="3.6" height="72.1"/>
<polyline class="l" points="1804.3,1865.2 1799.6,1865.3 1795,1865.8 1790.3,1866.5 1785.8,1867.6 1781.3,1869 1776.9,1870.6 1772.6,1872.6 1768.5,1874.8 1764.5,1877.2 1760.7,1880 1757.1,1882.9 1753.7,1886.1 1750.4,1889.6 1747.5,1893.2 1744.7,1897 1742.3,1901 1740.1,1905.1 1738.1,1909.4 1736.5,1913.8 1735.1,1918.3 1734,1922.8 1733.3,1927.5 1732.8,1932.1 1732.7,1936.8"/>
<rect class="lw" x="1735.3" y="1933.5" width="3.6" height="9.9"/>
<polygon class="lw" points="1622.9,1936.8 1646.9,1921.9 1648.2,1923.8 1624.1,1938.8"/>
<polygon class="lw" points="1646.9,1921.9 1672.6,1936.8 1671.5,1938.8 1645.8,1923.9"/>
<polyline class="d" points="1574.6,1943.5 1574.6,2067.7 1614.9,2108.1 1693.6,2108.1 1693.6,1943.5"/>
<rect class="lw" x="1822.9" y="1710.4" width="28.8" height="154.7"/>
<polyline class="l" points="1829.5,1727.9 1834.1,1735.7 1834.1,1836.7 1829.5,1844.5 1829.5,1727.9"/>
<rect class="lw" x="2034.3" y="1687.9" width="36.5" height="36.1"/>
<rect class="lw" x="2034.3" y="1853.4" width="36.5" height="35.8"/>
<rect class="g2w" x="2021.8" y="1727.1" width="50.5" height="122"/>
<rect class="g2w" x="2025.7" y="1730.6" width="42.8" height="52.9"/>
<rect class="g2w" x="2025.7" y="1792" width="42.8" height="53.6"/>
<rect class="g2w" x="1911.1" y="1727.1" width="85.5" height="122" rx="7"/>
<rect class="g2w" x="1996.6" y="1725.9" width="25.3" height="124.4"/>
<polyline class="l" points="2021.8,1725.9 2021.8,1850.3"/>
<polyline class="l" points="2021.8,1847.2 2047.1,1847.2"/>
<polyline class="g" points="2052.5,1705.3 2052.5,1732.2"/>
<circle class="l" cx="2052.5" cy="1705.3" r="4.9"/>
<rect class="lw" x="2050.2" y="1725.9" width="4.7" height="12.4"/>
<polyline class="g" points="2052.5,1870.9 2052.5,1844.1"/>
<circle class="l" cx="2052.5" cy="1870.9" r="4.9"/>
<rect class="lw" x="2050.2" y="1837.9" width="4.7" height="12.4"/>
<polygon class="lw" points="1926.6,1963 1950.7,1947.5 1952,1949.4 1927.9,1965"/>
<polygon class="lw" points="1950.7,1947.5 1975.2,1963 1974,1965 1949.5,1949.4"/>
<polygon class="lw" points="2007.1,1963 2032.3,1947.5 2033.6,1949.5 2008.3,1965"/>
<polygon class="lw" points="2032.3,1947.5 2056.8,1963 2055.6,1965 2031.1,1949.4"/>
<polyline class="d" points="1918.8,1991 2072.4,1991"/>
<rect class="lw" x="1819.5" y="2011.2" width="68" height="4"/>
<polyline class="l" points="1887.5,2014.2 1887.4,2009.8 1886.9,2005.3 1886.2,2000.9 1885.2,1996.6 1883.9,1992.3 1882.3,1988.2 1880.5,1984.1 1878.4,1980.2 1876,1976.4 1873.4,1972.8 1870.6,1969.4 1867.6,1966.1 1864.3,1963.1 1860.9,1960.3 1857.3,1957.7 1853.5,1955.3 1849.6,1953.2 1845.5,1951.4 1841.4,1949.8 1837.1,1948.5 1832.8,1947.5 1828.4,1946.8 1823.9,1946.3 1819.5,1946.2"/>
<rect class="lw" x="1811" y="2011" width="8.5" height="5"/>
<rect class="lw" x="1819.5" y="2031.6" width="68" height="4"/>
<polyline class="l" points="1887.5,2033.6 1887.4,2038 1886.9,2042.5 1886.2,2046.9 1885.2,2051.2 1883.9,2055.5 1882.3,2059.6 1880.5,2063.7 1878.4,2067.6 1876,2071.4 1873.4,2075 1870.6,2078.4 1867.6,2081.7 1864.3,2084.7 1860.9,2087.5 1857.3,2090.1 1853.5,2092.5 1849.6,2094.6 1845.5,2096.4 1841.4,2098 1837.1,2099.3 1832.8,2100.3 1828.4,2101 1823.9,2101.5 1819.5,2101.6"/>
<rect class="lw" x="1811" y="2030.5" width="8.5" height="5.5"/>
<rect class="lw" x="1811" y="2099" width="8.5" height="4"/>
<rect class="gw" x="1819.7" y="2103.7" width="108.8" height="47.8"/>
<rect class="gw" x="1853.9" y="2109.5" width="39.6" height="27.6"/>
<polyline class="g" points="1853.9,2109.5 1893.6,2137.1"/>
<polyline class="g" points="1853.9,2137.1 1893.6,2109.5"/>
<circle class="lw" cx="1873.8" cy="2122.4" r="1.6"/>
<rect class="lw" x="1871.8" y="2126.3" width="3.9" height="18.7"/>
<rect class="lw" x="1948" y="2126.3" width="40.8" height="25.3"/>
<path class="lw" d="M1951.9 2126.3C1949.9 2106.8 1959.7 2091.3 1968.6 2091.3C1977.5 2091.3 1987.3 2106.8 1985.3 2126.3Z"/>
<path class="l" d="M1961.6 2123.1C1959.7 2112.7 1964.3 2106.8 1968.6 2106.8C1972.9 2106.8 1977.5 2112.7 1975.6 2123.1Z"/>
<rect class="lw" x="2005.1" y="2029.1" width="73.1" height="122.4"/>
<rect class="lw" x="2009.4" y="2033" width="64.9" height="114.7" rx="3"/>
<polyline class="g" points="2009.4,2033 2074.3,2147.6"/>
<polyline class="g" points="2009.4,2147.6 2074.3,2033"/>
<circle class="lw" cx="2042.1" cy="2090.5" r="3.1"/>
<rect class="lw" x="1043.6" y="2550.1" width="36.1" height="35.8"/>
<rect class="lw" x="1209.1" y="2550.1" width="36.1" height="35.8"/>
<rect class="g2w" x="1084" y="2427.6" width="121.3" height="88.2" rx="7"/>
<rect class="g2w" x="1082.8" y="2512.7" width="124.4" height="24.5"/>
<rect class="g2w" x="1084" y="2537.2" width="121.3" height="50.5"/>
<rect class="g2w" x="1086.7" y="2540.3" width="54.4" height="44.3"/>
<rect class="g2w" x="1147.7" y="2540.3" width="54.4" height="44.3"/>
<polyline class="l" points="1082.8,2537.2 1207.2,2537.2"/>
<polyline class="g" points="1061.4,2568.3 1088.7,2568.3"/>
<circle class="l" cx="1061.4" cy="2568.3" r="4.7"/>
<rect class="lw" x="1082.8" y="2566" width="11.7" height="4.7"/>
<polyline class="g" points="1227.4,2568.3 1200.2,2568.3"/>
<circle class="l" cx="1227.4" cy="2568.3" r="4.7"/>
<rect class="lw" x="1194.4" y="2566" width="11.7" height="4.7"/>
<circle class="lw" cx="810" cy="2268.3" r="35.8"/>
<circle class="l" cx="810" cy="2268.3" r="33"/>
<g transform="translate(899.8 2269.8) rotate(-90)"><rect class="g2w" x="-30.7" y="-30.5" width="61.4" height="61"/><path class="g2" d="M-26.7 -30.5V30.5M26.7 -30.5V30.5M-30.7 25.5H30.7"/><path class="g" d="M-26.7 25.5H26.7V-24.5"/></g>
<circle class="lw" cx="906" cy="2341" r="19.4"/>
<circle class="l" cx="906" cy="2341" r="11.7"/>
<g transform="translate(859.5 2389.2) rotate(-45.4)"><rect class="lw" x="-30.2" y="-72" width="60.5" height="144"/><rect class="l" x="-25.8" y="-67.5" width="51.5" height="135"/><path class="l" d="M-25.8 17.3H25.8"/></g>
<rect class="lw" x="1393.9" y="2270.1" width="6.4" height="10.9"/>
<rect class="lw" x="1468.6" y="2270.1" width="3.9" height="10.9"/>
<rect class="lw" x="1464.1" y="2280.5" width="3.2" height="71.1"/>
<polyline class="l" points="1465.6,2351.6 1461,2351.5 1456.4,2351 1451.8,2350.3 1447.3,2349.2 1442.8,2347.8 1438.5,2346.2 1434.2,2344.3 1430.1,2342.1 1426.2,2339.6 1422.4,2336.9 1418.8,2334 1415.4,2330.8 1412.2,2327.4 1409.3,2323.8 1406.6,2320 1404.1,2316.1 1401.9,2312 1400,2307.7 1398.4,2303.4 1397,2298.9 1395.9,2294.4 1395.2,2289.8 1394.7,2285.2 1394.6,2280.5"/>
<polygon class="lw" points="1481.6,2328.8 1465.6,2351.6 1463.4,2350 1479.4,2327.3"/>
<polygon class="lw" points="1465.6,2351.6 1481.6,2380.1 1479.2,2381.4 1463.3,2353"/>
<rect class="lw" x="1401.9" y="2455.9" width="3.4" height="68.3"/>
<polyline class="l" points="1403,2524.3 1407.5,2524.1 1411.9,2523.7 1416.3,2523 1420.7,2522 1425,2520.7 1429.2,2519.1 1433.2,2517.2 1437.2,2515.1 1441,2512.8 1444.6,2510.2 1448.1,2507.3 1451.3,2504.3 1454.4,2501 1457.2,2497.5 1459.8,2493.9 1462.2,2490.1 1464.3,2486.2 1466.1,2482.1 1467.7,2477.9 1469,2473.6 1470,2469.3 1470.8,2464.9 1471.2,2460.4 1471.3,2455.9"/>
<rect class="lw" x="1398.9" y="2447.7" width="4.1" height="8.7"/>
<rect class="lw" x="1467.9" y="2447.7" width="3.9" height="8.7"/>
<polygon class="lw" points="1388.9,2393.8 1401.9,2413.1 1400,2414.4 1387,2395"/>
<polygon class="lw" points="1401.9,2413.1 1388.9,2433.6 1387,2432.4 1399.9,2411.9"/>
<polyline class="d" points="1344.5,2371 1344.5,2448.4"/>
<polyline class="d" points="1485,2303.8 1608,2303.8 1608,2421.5 1485,2421.5"/>
<rect class="lw" x="1319.9" y="2457.5" width="75.6" height="135.1"/>
<rect class="l" x="1325.1" y="2464.4" width="65.4" height="123"/>
<rect class="g" x="1327.8" y="2467.8" width="59.2" height="116.2"/>
<rect class="l" x="1334.7" y="2474.6" width="46" height="102.1"/>
<polyline class="g" points="1327.8,2467.8 1334.7,2474.6"/>
<polyline class="g" points="1387.1,2467.8 1380.7,2474.6"/>
<polyline class="g" points="1327.8,2584 1334.7,2576.7"/>
<polyline class="g" points="1387.1,2584 1380.7,2576.7"/>
<rect class="lw" x="1356.3" y="2572.6" width="3.4" height="12.5"/>
<rect class="lw" x="1354.7" y="2584.4" width="6.6" height="1.8"/>
<rect class="gw" x="1396.2" y="2541.8" width="144.2" height="50.1"/>
<rect class="gw" x="1411" y="2551.6" width="38.7" height="27.1"/>
<polyline class="g" points="1411,2551.6 1449.7,2578.7"/>
<polyline class="g" points="1411,2578.7 1449.7,2551.6"/>
<circle class="lw" cx="1430.3" cy="2564.6" r="2.3"/>
<rect class="lw" x="1428.3" y="2570.3" width="4.6" height="17.1"/>
<rect class="g" x="1426.9" y="2582.8" width="7.3" height="4.6"/>
<rect class="gw" x="1481.6" y="2551.6" width="38.7" height="27.1"/>
<polyline class="g" points="1481.6,2551.6 1520.3,2578.7"/>
<polyline class="g" points="1481.6,2578.7 1520.3,2551.6"/>
<circle class="lw" cx="1501" cy="2564.6" r="2.3"/>
<rect class="lw" x="1498.9" y="2570.3" width="4.6" height="17.1"/>
<rect class="g" x="1497.5" y="2582.8" width="7.3" height="4.6"/>
<rect class="lw" x="1544.2" y="2572.6" width="41" height="19.4"/>
<path class="lw" d="M1548.6 2572.6C1546.3 2552.6 1554.5 2532.7 1564.7 2532.7C1575 2532.7 1583.2 2552.6 1580.9 2572.6Z"/>
<path class="l" d="M1554.5 2570.3C1552.4 2552.6 1557.9 2540.7 1564.7 2540.7C1571.6 2540.7 1577 2552.6 1575 2570.3Z"/>
<path class="lw" d="M1596.2 2591.9C1587.5 2568 1596.6 2540.2 1611 2540.2C1625.3 2540.2 1634.4 2568 1625.8 2591.9Z"/>
<path class="l" d="M1600.7 2581.7C1594.4 2565.7 1601.2 2546.4 1611 2546.4C1620.8 2546.4 1627.6 2565.7 1621.2 2581.7Z"/>
<polyline class="l" points="1600.7,2581.7 1621.2,2581.7"/>
<circle class="l" cx="1611" cy="2574.9" r="2.1"/>
<rect class="lw" x="1635.8" y="2457.5" width="74.7" height="113.9"/>
<rect class="lw" x="1639.9" y="2461" width="66.1" height="107.1" rx="4"/>
<polyline class="g" points="1639.9,2461 1706,2568"/>
<polyline class="g" points="1639.9,2568 1706,2461"/>
<circle class="lw" cx="1674.1" cy="2513.3" r="4.1"/>
<rect class="lw" x="1647.4" y="2331.6" width="52.8" height="46.7"/>
<polyline class="l" points="1654.7,2331.6 1654.7,2378.3"/>
<polyline class="l" points="1647.4,2347.1 1654.7,2347.1"/>
<polyline class="l" points="1647.4,2392.2 1703.7,2392.2 1703.7,2439.3 1647.4,2439.3"/>
<polyline class="g" points="1692.3,2392.2 1692.3,2439.3"/>
<rect class="lw" x="1693.4" y="2417.2" width="3.4" height="17.5"/>
<polygon class="lw" points="1785.6,2367.3 1731.3,2418.6 1733.5,2421 1787.8,2369.7"/>
<polyline class="l" points="1731,2418.8 1727.8,2415.2 1724.8,2411.4 1722.1,2407.4 1719.7,2403.2 1717.5,2398.9 1715.6,2394.4 1714,2389.8 1712.7,2385.2 1711.7,2380.5 1711,2375.7 1710.7,2370.9 1710.6,2366 1710.8,2361.2 1711.4,2356.4 1712.2,2351.6 1713.4,2346.9 1714.9,2342.3 1716.6,2337.8 1718.7,2333.4 1721,2329.2 1723.6,2325.1 1726.4,2321.2 1729.5,2317.5 1732.8,2314"/>
<polygon class="lw" points="1731.8,2323.3 1735.2,2325.9 1739.6,2320.2 1736.5,2317.6"/>
<rect class="gw" x="1731.3" y="2472.9" width="49.7" height="48.7"/>
<rect class="l" x="1737" y="2478.1" width="38.8" height="38.3"/>
<polyline class="d" points="1815.4,2395.3 1874.9,2460"/>
<rect class="lw" x="1805.8" y="2478.1" width="4.4" height="66.8"/>
<polyline class="l" points="1806.9,2543.6 1811.2,2543.4 1815.6,2543 1819.9,2542.3 1824.1,2541.3 1828.3,2540 1832.4,2538.5 1836.4,2536.7 1840.2,2534.6 1843.9,2532.3 1847.5,2529.8 1850.9,2527 1854.1,2524 1857.1,2520.8 1859.8,2517.4 1862.4,2513.9 1864.7,2510.2 1866.7,2506.3 1868.5,2502.4 1870.1,2498.3 1871.3,2494.1 1872.3,2489.8 1873.1,2485.5 1873.5,2481.2 1873.6,2476.8"/>
<rect class="lw" x="1803.2" y="2468.3" width="3.6" height="9.3"/>
<rect class="lw" x="1871.6" y="2467.7" width="3.4" height="9.1"/>
<rect class="lw" x="1720.9" y="2556.3" width="19.4" height="42.2"/>
<path class="lw" d="M1740.3 2558.8C1757.2 2556.3 1780.5 2563.5 1780.5 2577.2C1780.5 2590.9 1757.2 2598.2 1740.3 2595.6Z"/>
<path class="l" d="M1745.5 2566.6C1757.2 2563.5 1775.3 2568.7 1775.3 2577.2C1775.3 2585.8 1757.2 2590.9 1745.5 2587.8Z"/>
<path class="l" d="M1748.6 2571.3C1754.6 2569.2 1761.8 2572.6 1761.8 2577.2C1761.8 2581.9 1754.6 2585.2 1748.6 2583.2Z"/>
<rect class="lw" x="1887.3" y="2535" width="49.7" height="86.7"/>
<rect class="gw" x="1893.8" y="2558.3" width="27.7" height="38.3"/>
<polyline class="g" points="1893.8,2558.3 1921.5,2596.6"/>
<polyline class="g" points="1893.8,2596.6 1921.5,2558.3"/>
<circle class="lw" cx="1907.3" cy="2577.7" r="2.1"/>
<rect class="lw" x="1912.4" y="2575.7" width="16.8" height="3.9"/>
<rect class="g" x="1924.9" y="2574.9" width="5.2" height="5.7"/>
<rect class="lw" x="2056" y="2455" width="27.2" height="4.4"/>
<polyline class="l" points="2056,2457 2056.1,2458.8 2056.2,2460.6 2056.5,2462.3 2056.9,2464 2057.4,2465.7 2058.1,2467.4 2058.8,2469 2059.6,2470.6 2060.6,2472.1 2061.6,2473.6 2062.7,2474.9 2064,2476.2 2065.3,2477.5 2066.6,2478.6 2068.1,2479.6 2069.6,2480.6 2071.2,2481.4 2072.8,2482.1 2074.5,2482.8 2076.2,2483.3 2077.9,2483.7 2079.6,2484 2081.4,2484.1 2083.2,2484.2"/>
<rect class="lw" x="2083.2" y="2453.6" width="11.7" height="5.8"/>
<rect class="lw" x="2008.2" y="2561.6" width="75" height="5"/>
<polyline class="l" points="2008.2,2565.6 2008.4,2560.7 2008.8,2555.8 2009.6,2551 2010.8,2546.2 2012.2,2541.5 2013.9,2536.9 2015.9,2532.4 2018.2,2528.1 2020.8,2523.9 2023.7,2519.9 2026.8,2516.1 2030.2,2512.6 2033.7,2509.2 2037.5,2506.1 2041.5,2503.2 2045.7,2500.6 2050,2498.3 2054.5,2496.3 2059.1,2494.6 2063.8,2493.2 2068.6,2492 2073.4,2491.2 2078.3,2490.8 2083.2,2490.6"/>
<rect class="lw" x="2083.2" y="2562" width="11.7" height="8.5"/>
<polygon class="lw" points="1974.6,2575.1 1992.7,2563 1994.1,2565.1 1976,2577.3"/>
<polygon class="lw" points="1992.7,2563 2013.4,2575.1 2012.1,2577.4 1991.4,2565.2"/>
<polyline class="sl" points="1909.4,2276.8 1908,2270.2 1907.2,2263.4 1907,2256.6 1907.4,2249.9 1908.4,2243.1 1909.9,2236.5 1912,2230.1 1914.7,2223.8 1917.9,2217.8 1921.7,2212.2 1925.9,2206.8 1930.5,2201.9 1935.6,2197.3 1941,2193.3 1946.8,2189.7 1952.9,2186.6 1959.2,2184.1 1965.7,2182.1 1972.3,2180.7 1979.1,2179.9 1985.9,2179.7 1992.6,2180.1 1999.4,2181.1 2006,2182.6"/>
<polyline class="sl" points="1899.6,2279.3 1898.1,2271.8 1897.1,2264.2 1896.9,2256.5 1897.3,2248.9 1898.4,2241.3 1900.2,2233.8 1902.6,2226.5 1905.6,2219.4 1909.2,2212.7 1913.4,2206.2 1918.2,2200.2 1923.4,2194.6 1929.2,2189.5 1935.3,2184.9 1941.8,2180.9 1948.7,2177.4 1955.8,2174.5 1963.2,2172.3 1970.7,2170.8 1978.3,2169.8 1986,2169.6 1993.6,2170 2001.2,2171.1 2008.7,2172.9"/>
<polyline class="sl" points="1984.9,2257.6 1899.6,2279.3"/>
<polyline class="sl" points="1984.9,2257.6 1900.2,2233.8"/>
<polyline class="sl" points="1984.9,2257.6 1923.4,2194.6"/>
<polyline class="sl" points="1984.9,2257.6 1963.2,2172.3"/>
<polyline class="sl" points="1984.9,2257.6 2008.7,2172.9"/>
<polyline class="d" points="2008.7,2172.9 2023.1,2178.3 2036.3,2186.1 2047.9,2196.1 2057.6,2208 2065.1,2221.4 2070.2,2235.9 2072.7,2251 2072.5,2266.3 2069.6,2281.4 2064.2,2295.8 2056.4,2309 2046.4,2320.6 2034.5,2330.3 2021.1,2337.8 2006.6,2342.9 1991.5,2345.4 1976.2,2345.2 1961.1,2342.3 1946.7,2336.9 1933.5,2329.1 1921.9,2319.1 1912.2,2307.2 1904.7,2293.8 1899.6,2279.3"/>
<polyline class="d" points="1991.3,2251.3 2047.9,2196.1"/>
<polyline class="d" points="1993.6,2255.4 2070.2,2235.9"/>
<polyline class="d" points="1993.6,2260 2069.6,2281.4"/>
<polyline class="d" points="1991.2,2264 2046.4,2320.6"/>
<polyline class="d" points="1987.1,2266.3 2006.6,2342.9"/>
<polyline class="d" points="1982.5,2266.3 1961.1,2342.3"/>
<polyline class="d" points="1978.5,2263.9 1921.9,2319.1"/>
<circle class="sh" cx="1984.9" cy="2257.6" r="7"/>
<polyline class="l" points="2044.9,2192.6 2051.4,2199.1"/>
<rect class="kp" x="2521.4" y="126.8" width="51.6" height="190.2"/>
<rect class="kp" x="2521.4" y="421.5" width="51.6" height="190.5"/>
<style>.kp{fill:#868686;stroke:#6a6a6a;stroke-width:1}.kl{fill:none;stroke:#3a3a3a;stroke-width:1}.kt{fill:none;stroke:#1a1a1a;stroke-width:1.4}</style>
<rect class="kp" x="2612.1" y="138.2" width="102.6" height="87.7"/>
<polygon class="kl" points="2601,123.7 2756.6,123.7 2756.6,120.9 2778.7,116.1 2786.6,124.6 2858.2,124.6 2832.9,217.7 2829.8,224.7 2832.9,247.7 2822.8,251.5 2792.9,362.9 2788.8,371.7 2792.9,394.4 2783.4,398.2 2737,565.5 2601,565.5 2601,523.8 2591.5,501.7 2601,482.8 2601,356.6 2591.9,326.6 2601,315.6 2601,202 2598.8,202 2592.5,172.9 2601,168.8"/>
<polygon class="kt" points="2612.1,138.2 2840.2,138.2 2728.2,552.9 2612.1,552.9"/>
<polyline class="kl" points="2672,123.7 2672,138.2"/>
<polyline class="kl" points="2756.6,123.7 2756.6,138.2"/>
<polyline class="kl" points="2601,225.9 2714.6,225.9"/>
<polyline class="kl" points="2714.6,211.4 2729.4,211.4 2729.4,232.9 2748.7,232.9 2748.7,225.9 2829.8,225.9"/>
<polyline class="kl" points="2729.4,232.9 2729.4,313 2711.8,313 2711.8,340.2 2701.4,340.2 2701.4,430.7 2704.5,430.7 2704.5,445.6 2683.4,446.8 2683.4,494.5 2665.7,494.5"/>
<polyline class="kl" points="2660.3,225.9 2660.3,261.9 2665.1,267.6 2686.5,267.6 2686.5,313.3 2601,313.3"/>
<polyline class="kl" points="2665.1,328.2 2665.1,336.4 2686.5,336.4 2686.5,367 2601,367"/>
<polyline class="kl" points="2665.7,367 2665.7,494.5"/>
<polyline class="kl" points="2673,494.5 2673,565.5"/>
<polyline class="kl" points="2701.4,371.7 2789.7,371.7"/>
<polyline class="kl" points="2601,438.6 2612.1,438.6"/>
<polyline class="kl" points="2792.9,313.3 2806.1,313.3"/>
<polyline class="kl" points="2760.7,430.7 2773.9,430.7"/>
<path class="kl" d="M 2884.4 246.1 C 2917.5 302.9 2917.5 334.5 2900.2 353.4 S 2867 403.9 2892.3 449.7"/>
<path class="kl" d="M 2895.1 246.1 C 2928.2 302.9 2928.2 334.5 2910.9 353.4 S 2877.8 403.9 2903 449.7"/>
<path class="kl" d="M 2905.8 246.1 C 2939 302.9 2939 334.5 2921.6 353.4 S 2888.5 403.9 2913.7 449.7"/>
<circle cx="2428.4" cy="204.8" r="38.2" fill="none" stroke="#222" stroke-width="1.3"/><circle cx="2428.4" cy="204.8" r="33.5" fill="none" stroke="#222" stroke-width="2.2" stroke-dasharray="2.2 1.6"/><circle cx="2428.4" cy="204.8" r="29.5" fill="none" stroke="#222" stroke-width="1"/><polygon points="2438.7,179.9 2428.4,197.8 2428.4,204.8" fill="#111" stroke="#111" stroke-width="0.6"/><polygon points="2438.7,179.9 2433.3,199.9 2428.4,204.8" fill="#fff" stroke="#111" stroke-width="0.6"/><polygon points="2453.3,194.5 2433.3,199.9 2428.4,204.8" fill="#111" stroke="#111" stroke-width="0.6"/><polygon points="2453.3,194.5 2435.4,204.8 2428.4,204.8" fill="#fff" stroke="#111" stroke-width="0.6"/><polygon points="2453.3,215.1 2435.4,204.8 2428.4,204.8" fill="#111" stroke="#111" stroke-width="0.6"/><polygon points="2453.3,215.1 2433.3,209.7 2428.4,204.8" fill="#fff" stroke="#111" stroke-width="0.6"/><polygon points="2438.7,229.7 2433.3,209.7 2428.4,204.8" fill="#111" stroke="#111" stroke-width="0.6"/><polygon points="2438.7,229.7 2428.4,211.8 2428.4,204.8" fill="#fff" stroke="#111" stroke-width="0.6"/><polygon points="2418.1,229.7 2428.4,211.8 2428.4,204.8" fill="#111" stroke="#111" stroke-width="0.6"/><polygon points="2418.1,229.7 2423.5,209.7 2428.4,204.8" fill="#fff" stroke="#111" stroke-width="0.6"/><polygon points="2403.5,215.1 2423.5,209.7 2428.4,204.8" fill="#111" stroke="#111" stroke-width="0.6"/><polygon points="2403.5,215.1 2421.4,204.8 2428.4,204.8" fill="#fff" stroke="#111" stroke-width="0.6"/><polygon points="2403.5,194.5 2421.4,204.8 2428.4,204.8" fill="#111" stroke="#111" stroke-width="0.6"/><polygon points="2403.5,194.5 2423.5,199.9 2428.4,204.8" fill="#fff" stroke="#111" stroke-width="0.6"/><polygon points="2418.1,179.9 2423.5,199.9 2428.4,204.8" fill="#111" stroke="#111" stroke-width="0.6"/><polygon points="2418.1,179.9 2428.4,197.8 2428.4,204.8" fill="#fff" stroke="#111" stroke-width="0.6"/><polygon points="2450.3,182.9 2428.4,195.8 2428.4,204.8" fill="#111" stroke="#111" stroke-width="0.6"/><polygon points="2450.3,182.9 2437.4,204.8 2428.4,204.8" fill="#fff" stroke="#111" stroke-width="0.6"/><polygon points="2450.3,226.7 2437.4,204.8 2428.4,204.8" fill="#111" stroke="#111" stroke-width="0.6"/><polygon points="2450.3,226.7 2428.4,213.8 2428.4,204.8" fill="#fff" stroke="#111" stroke-width="0.6"/><polygon points="2406.5,226.7 2428.4,213.8 2428.4,204.8" fill="#111" stroke="#111" stroke-width="0.6"/><polygon points="2406.5,226.7 2419.4,204.8 2428.4,204.8" fill="#fff" stroke="#111" stroke-width="0.6"/><polygon points="2406.5,182.9 2419.4,204.8 2428.4,204.8" fill="#111" stroke="#111" stroke-width="0.6"/><polygon points="2406.5,182.9 2428.4,195.8 2428.4,204.8" fill="#fff" stroke="#111" stroke-width="0.6"/><polygon points="2428.4,161.8 2422,198.4 2428.4,204.8" fill="#111" stroke="#111" stroke-width="0.6"/><polygon points="2428.4,161.8 2434.8,198.4 2428.4,204.8" fill="#fff" stroke="#111" stroke-width="0.6"/><polygon points="2471.4,204.8 2434.8,198.4 2428.4,204.8" fill="#111" stroke="#111" stroke-width="0.6"/><polygon points="2471.4,204.8 2434.8,211.2 2428.4,204.8" fill="#fff" stroke="#111" stroke-width="0.6"/><polygon points="2428.4,247.8 2434.8,211.2 2428.4,204.8" fill="#111" stroke="#111" stroke-width="0.6"/><polygon points="2428.4,247.8 2422,211.2 2428.4,204.8" fill="#fff" stroke="#111" stroke-width="0.6"/><polygon points="2385.4,204.8 2422,211.2 2428.4,204.8" fill="#111" stroke="#111" stroke-width="0.6"/><polygon points="2385.4,204.8 2422,198.4 2428.4,204.8" fill="#fff" stroke="#111" stroke-width="0.6"/><polygon points="2461.7,171.5 2459.8,175.5 2457.7,173.4" fill="#111"/><polygon points="2461.7,238.1 2457.7,236.2 2459.8,234.1" fill="#111"/><polygon points="2395.1,238.1 2397,234.1 2399.1,236.2" fill="#111"/><polygon points="2395.1,171.5 2399.1,173.4 2397,175.5" fill="#111"/></g>
<g id="logo"><g transform="translate(100 50) scale(0.23321)"><g><path d="M420 1345 C400 1440 330 1490 265 1485 C200 1478 165 1430 168 1385" fill="none" stroke="#000" stroke-width="34" stroke-linecap="round"/><path d="M420 1345 C400 1440 330 1490 265 1485 C200 1478 165 1430 168 1385" fill="none" stroke="#fff" stroke-width="16" stroke-linecap="round"/><path d="M420 1345 C400 1440 330 1490 265 1485 C200 1478 165 1430 168 1385" fill="none" stroke="#000" stroke-width="2.5" stroke-dasharray="14 9"/><path d="M345 1500 C370 1570 450 1565 510 1480" fill="none" stroke="#000" stroke-width="26" stroke-linecap="round"/><path d="M345 1500 C370 1570 450 1565 510 1480" fill="none" stroke="#fff" stroke-width="12" stroke-linecap="round"/><path d="M345 1500 C370 1570 450 1565 510 1480" fill="none" stroke="#000" stroke-width="2.5" stroke-dasharray="14 9"/><path d="M735 1345 C715 1235 610 1205 580 1290 C560 1370 540 1468 478 1470 C425 1470 405 1390 412 1300" fill="none" stroke="#000" stroke-width="40" stroke-linecap="round"/><path d="M735 1345 C715 1235 610 1205 580 1290 C560 1370 540 1468 478 1470 C425 1470 405 1390 412 1300" fill="none" stroke="#fff" stroke-width="20" stroke-linecap="round"/><path d="M735 1345 C715 1235 610 1205 580 1290 C560 1370 540 1468 478 1470 C425 1470 405 1390 412 1300" fill="none" stroke="#000" stroke-width="2.5" stroke-dasharray="14 9"/><path d="M735 1420 C690 1300 640 1290 610 1330" fill="none" stroke="#000" stroke-width="26" stroke-linecap="round"/><path d="M735 1420 C690 1300 640 1290 610 1330" fill="none" stroke="#fff" stroke-width="12" stroke-linecap="round"/><path d="M735 1420 C690 1300 640 1290 610 1330" fill="none" stroke="#000" stroke-width="2.5" stroke-dasharray="14 9"/><path d="M740 1035 C700 1035 705 1095 660 1105 C610 1112 585 1060 545 985" fill="none" stroke="#000" stroke-width="30" stroke-linecap="round"/><path d="M740 1035 C700 1035 705 1095 660 1105 C610 1112 585 1060 545 985" fill="none" stroke="#fff" stroke-width="14" stroke-linecap="round"/><path d="M740 1035 C700 1035 705 1095 660 1105 C610 1112 585 1060 545 985" fill="none" stroke="#000" stroke-width="2.5" stroke-dasharray="14 9"/><path d="M700 1090 C720 1150 690 1195 650 1185 C625 1175 630 1140 655 1140" fill="none" stroke="#000" stroke-width="22" stroke-linecap="round"/><path d="M700 1090 C720 1150 690 1195 650 1185 C625 1175 630 1140 655 1140" fill="none" stroke="#fff" stroke-width="9" stroke-linecap="round"/><path d="M700 1090 C720 1150 690 1195 650 1185 C625 1175 630 1140 655 1140" fill="none" stroke="#000" stroke-width="2.5" stroke-dasharray="14 9"/><path d="M165 1095 C120 1140 85 1185 105 1225 C125 1255 165 1235 150 1200" fill="none" stroke="#000" stroke-width="9" stroke-linecap="round"/><path d="M288 1492 l14 20 l-8 8 l8 12 l-14 16 l-14 -16 l8 -12 l-8 -8 z" fill="#000" stroke="none" stroke-width="0"/><path d="M407 1558 l14 20 l-8 8 l8 12 l-14 16 l-14 -16 l8 -12 l-8 -8 z" fill="#000" stroke="none" stroke-width="0"/><path d="M520 1115 l14 20 l-8 8 l8 12 l-14 16 l-14 -16 l8 -12 l-8 -8 z" fill="#000" stroke="none" stroke-width="0"/><path d="M500 1380 l14 20 l-8 8 l8 12 l-14 16 l-14 -16 l8 -12 l-8 -8 z" fill="#000" stroke="none" stroke-width="0"/><path d="M570 1380 h40 v55 h-10 l-10 50 l-10 -50 h-10 z" fill="#000" stroke="none" stroke-width="0"/><path d="M581 1392 h18 v16 h-18 z" fill="#fff" stroke="none" stroke-width="0"/><path d="M620 1410 h40 v55 h-10 l-10 50 l-10 -50 h-10 z" fill="#000" stroke="none" stroke-width="0"/><path d="M631 1422 h18 v16 h-18 z" fill="#fff" stroke="none" stroke-width="0"/><path d="M680 1350 h40 v55 h-10 l-10 50 l-10 -50 h-10 z" fill="#000" stroke="none" stroke-width="0"/><path d="M691 1362 h18 v16 h-18 z" fill="#fff" stroke="none" stroke-width="0"/><path d="M85 1262 L268 1262 C257.02 1299.35 208.525 1336.7 194.8 1345 L158.2 1345 C144.475 1336.7 95.98 1299.35 85 1262 Z" fill="#000" stroke="none" stroke-width="0"/><path d="M135.325 1291.05 L157.97125 1335.04" fill="none" stroke="#fff" stroke-width="5"/><path d="M162.775 1291.05 L170.32375 1335.04" fill="none" stroke="#fff" stroke-width="5"/><path d="M190.225 1291.05 L182.67625 1335.04" fill="none" stroke="#fff" stroke-width="5"/><path d="M217.675 1291.05 L195.02875 1335.04" fill="none" stroke="#fff" stroke-width="5"/><path d="M91 1271 L262 1271" fill="none" stroke="#fff" stroke-width="3"/><path d="M150 1345 h52 l8 22 h-68 z" fill="#000" stroke="none" stroke-width="0"/><path d="M135 1378 C170 1372 215 1380 255 1400 L240 1420 C210 1400 165 1395 140 1400 Z" fill="#000" stroke="none" stroke-width="0"/><path d="M322 1185 L510 1185 C498.72 1233.15 448.9 1281.3 434.8 1292 L397.2 1292 C383.1 1281.3 333.28 1233.15 322 1185 Z" fill="#000" stroke="none" stroke-width="0"/><path d="M373.7 1222.45 L396.965 1279.16" fill="none" stroke="#fff" stroke-width="5"/><path d="M401.9 1222.45 L409.655 1279.16" fill="none" stroke="#fff" stroke-width="5"/><path d="M430.1 1222.45 L422.345 1279.16" fill="none" stroke="#fff" stroke-width="5"/><path d="M458.3 1222.45 L435.035 1279.16" fill="none" stroke="#fff" stroke-width="5"/><path d="M328 1194 L504 1194" fill="none" stroke="#fff" stroke-width="3"/><path d="M392 1292 h50 l6 18 h-62 z" fill="#000" stroke="none" stroke-width="0"/><path d="M372 905 L555 905 C544.02 935.15 495.525 965.3 481.8 972 L445.2 972 C431.475 965.3 382.98 935.15 372 905 Z" fill="#000" stroke="none" stroke-width="0"/><path d="M422.325 928.45 L444.97125 963.96" fill="none" stroke="#fff" stroke-width="5"/><path d="M449.775 928.45 L457.32375 963.96" fill="none" stroke="#fff" stroke-width="5"/><path d="M477.225 928.45 L469.67625 963.96" fill="none" stroke="#fff" stroke-width="5"/><path d="M504.675 928.45 L482.02875 963.96" fill="none" stroke="#fff" stroke-width="5"/><path d="M378 914 L549 914" fill="none" stroke="#fff" stroke-width="3"/><path d="M447 972 h34 l4 18 h-42 z" fill="#000" stroke="none" stroke-width="0"/><path d="M258 1340 L388 1340 C380.2 1367.9 345.75 1395.8 336.0 1402 L310.0 1402 C300.25 1395.8 265.8 1367.9 258 1340 Z" fill="#000" stroke="none" stroke-width="0"/><path d="M293.75 1361.7 L309.8375 1394.56" fill="none" stroke="#fff" stroke-width="5"/><path d="M313.25 1361.7 L318.6125 1394.56" fill="none" stroke="#fff" stroke-width="5"/><path d="M332.75 1361.7 L327.3875 1394.56" fill="none" stroke="#fff" stroke-width="5"/><path d="M352.25 1361.7 L336.1625 1394.56" fill="none" stroke="#fff" stroke-width="5"/><path d="M264 1349 L382 1349" fill="none" stroke="#fff" stroke-width="3"/><path d="M432 692 L488 692 L488 905 L432 905 Z" fill="#fff" stroke="#000" stroke-width="6"/><path d="M466.72 698 L484 698 L484 905 L466.72 905 Z" fill="#000" stroke="none" stroke-width="0"/><path d="M460 555 C434 615 438 655 460 684 C482 655 480 610 460 555 Z" fill="#fff" stroke="#000" stroke-width="5"/><path d="M460 662 L460 692" fill="none" stroke="#000" stroke-width="4"/><path d="M385 945 L440 945 L440 1185 L385 1185 Z" fill="#fff" stroke="#000" stroke-width="6"/><path d="M419.1 951 L436 951 L436 1185 L419.1 1185 Z" fill="#000" stroke="none" stroke-width="0"/><path d="M412 812 C386 872 390 912 412 937 C434 912 432 867 412 812 Z" fill="#fff" stroke="#000" stroke-width="5"/><path d="M412 915 L412 945" fill="none" stroke="#000" stroke-width="4"/><path d="M322 1228 L354 1228 L354 1340 L322 1340 Z" fill="#fff" stroke="#000" stroke-width="6"/><path d="M341.84 1234 L350 1234 L350 1340 L341.84 1340 Z" fill="#000" stroke="none" stroke-width="0"/><path d="M345 1040 C319 1100 323 1140 345 1220 C367 1140 365 1095 345 1040 Z" fill="#fff" stroke="#000" stroke-width="5"/><path d="M345 1198 L345 1228" fill="none" stroke="#000" stroke-width="4"/><path d="M165 1135 L212 1135 L212 1262 L165 1262 Z" fill="#fff" stroke="#000" stroke-width="6"/><path d="M194.14 1141 L208 1141 L208 1262 L194.14 1262 Z" fill="#000" stroke="none" stroke-width="0"/><path d="M188 1135 C162 1195 166 1235 188 1127 C210 1235 208 1190 188 1135 Z" fill="#fff" stroke="#000" stroke-width="5"/><path d="M188 1105 L188 1135" fill="none" stroke="#000" stroke-width="4"/><path d="M100 442 L385 402 L378 424 C338 470 330 545 352 592 C358 625 322 652 292 656 L240 656 C212 642 186 622 190 590 C200 540 160 482 100 462 Z" fill="#000" stroke="none" stroke-width="0"/><path d="M140 462 L345 432 C318 470 312 520 322 560 L240 590 C230 540 190 490 140 462 Z" fill="#fff" stroke="none" stroke-width="0"/><path d="M175 462 L232 600" fill="none" stroke="#000" stroke-width="8"/><path d="M202 458 L246 600" fill="none" stroke="#000" stroke-width="8"/><path d="M229 454 L260 600" fill="none" stroke="#000" stroke-width="8"/><path d="M256 450 L274 600" fill="none" stroke="#000" stroke-width="8"/><path d="M283 446 L288 600" fill="none" stroke="#000" stroke-width="8"/><path d="M310 442 L302 600" fill="none" stroke="#000" stroke-width="8"/><path d="M205 600 C240 625 300 625 340 595" fill="none" stroke="#fff" stroke-width="6" stroke-dasharray="6 6"/><path d="M263 656 h30 l6 50 l-10 30 l34 126 h-86 l36 -126 l-12 -30 z" fill="#000" stroke="none" stroke-width="0"/><path d="M268 760 L250 850 h50 Z" fill="#fff" stroke="none" stroke-width="0"/><path d="M120 722 C158 690 208 718 202 770 C200 800 184 812 178 830 L214 852 L278 800 L302 822 L252 900 L328 880 L346 922 L252 952 C205 962 192 1000 202 1040 L298 1050 L322 1092 L334 1182 L300 1184 L284 1102 L232 1092 L252 1252 L210 1252 L190 1122 C120 1100 68 1000 80 900 C86 820 100 760 120 722 Z" fill="#000" stroke="none" stroke-width="0"/><path d="M196 872 C172 922 172 1000 212 1042 L246 1030 C214 990 216 920 240 884 Z" fill="#fff" stroke="none" stroke-width="0"/><path d="M150 748 C168 738 190 748 190 772 C188 794 170 806 152 800 C138 790 138 760 150 748 Z" fill="#fff" stroke="none" stroke-width="0"/><path d="M156 764 h8 v8 h-8z M176 766 h8 v8 h-8z M160 786 h22 v5 h-22z" fill="#000" stroke="none" stroke-width="0"/><path d="M100 860 l26 -10" fill="none" stroke="#fff" stroke-width="3"/><path d="M102 890 l26 -10" fill="none" stroke="#fff" stroke-width="3"/><path d="M104 920 l26 -10" fill="none" stroke="#fff" stroke-width="3"/><path d="M106 950 l26 -10" fill="none" stroke="#fff" stroke-width="3"/><path d="M108 980 l26 -10" fill="none" stroke="#fff" stroke-width="3"/><path d="M110 1010 l26 -10" fill="none" stroke="#fff" stroke-width="3"/><path d="M112 1040 l26 -10" fill="none" stroke="#fff" stroke-width="3"/><path d="M645 650 m-126 125 a126 126 0 1 0 252 0 a126 126 0 1 0 -252 0" fill="none" stroke="#000" stroke-width="9"/><path d="M640 642 C560 682 540 800 580 900 C600 950 690 960 700 902 L690 822 L750 802 C792 790 790 732 742 722 L700 702 Z" fill="#000" stroke="none" stroke-width="0"/><path d="M722 640 m-46 0 a46 49 0 1 0 92 0 a46 49 0 1 0 -92 0" fill="#000" stroke="none" stroke-width="0"/><path d="M722 650 m-26 0 a26 30 0 1 0 52 0 a26 30 0 1 0 -52 0" fill="#fff" stroke="none" stroke-width="0"/><path d="M708 640 h9 v9 h-9z M728 640 h9 v9 h-9z M712 666 h22 v5 h-22z" fill="#000" stroke="none" stroke-width="0"/><path d="M640 800 C620 850 630 900 660 930 L690 925 C665 890 662 850 680 815 Z" fill="#fff" stroke="none" stroke-width="0"/><path d="M600 950 h60 l10 25 h-80 z" fill="#000" stroke="none" stroke-width="0"/><path d="M700 760 C740 745 770 760 765 790 C760 815 730 820 705 812 Z" fill="#fff" stroke="#000" stroke-width="4"/></g><g transform="translate(1720 0) scale(-1 1)"><path d="M420 1345 C400 1440 330 1490 265 1485 C200 1478 165 1430 168 1385" fill="none" stroke="#000" stroke-width="34" stroke-linecap="round"/><path d="M420 1345 C400 1440 330 1490 265 1485 C200 1478 165 1430 168 1385" fill="none" stroke="#fff" stroke-width="16" stroke-linecap="round"/><path d="M420 1345 C400 1440 330 1490 265 1485 C200 1478 165 1430 168 1385" fill="none" stroke="#000" stroke-width="2.5" stroke-dasharray="14 9"/><path d="M345 1500 C370 1570 450 1565 510 1480" fill="none" stroke="#000" stroke-width="26" stroke-linecap="round"/><path d="M345 1500 C370 1570 450 1565 510 1480" fill="none" stroke="#fff" stroke-width="12" stroke-linecap="round"/><path d="M345 1500 C370 1570 450 1565 510 1480" fill="none" stroke="#000" stroke-width="2.5" stroke-dasharray="14 9"/><path d="M735 1345 C715 1235 610 1205 580 1290 C560 1370 540 1468 478 1470 C425 1470 405 1390 412 1300" fill="none" stroke="#000" stroke-width="40" stroke-linecap="round"/><path d="M735 1345 C715 1235 610 1205 580 1290 C560 1370 540 1468 478 1470 C425 1470 405 1390 412 1300" fill="none" stroke="#fff" stroke-width="20" stroke-linecap="round"/><path d="M735 1345 C715 1235 610 1205 580 1290 C560 1370 540 1468 478 1470 C425 1470 405 1390 412 1300" fill="none" stroke="#000" stroke-width="2.5" stroke-dasharray="14 9"/><path d="M735 1420 C690 1300 640 1290 610 1330" fill="none" stroke="#000" stroke-width="26" stroke-linecap="round"/><path d="M735 1420 C690 1300 640 1290 610 1330" fill="none" stroke="#fff" stroke-width="12" stroke-linecap="round"/><path d="M735 1420 C690 1300 640 1290 610 1330" fill="none" stroke="#000" stroke-width="2.5" stroke-dasharray="14 9"/><path d="M740 1035 C700 1035 705 1095 660 1105 C610 1112 585 1060 545 985" fill="none" stroke="#000" stroke-width="30" stroke-linecap="round"/><path d="M740 1035 C700 1035 705 1095 660 1105 C610 1112 585 1060 545 985" fill="none" stroke="#fff" stroke-width="14" stroke-linecap="round"/><path d="M740 1035 C700 1035 705 1095 660 1105 C610 1112 585 1060 545 985" fill="none" stroke="#000" stroke-width="2.5" stroke-dasharray="14 9"/><path d="M700 1090 C720 1150 690 1195 650 1185 C625 1175 630 1140 655 1140" fill="none" stroke="#000" stroke-width="22" stroke-linecap="round"/><path d="M700 1090 C720 1150 690 1195 650 1185 C625 1175 630 1140 655 1140" fill="none" stroke="#fff" stroke-width="9" stroke-linecap="round"/><path d="M700 1090 C720 1150 690 1195 650 1185 C625 1175 630 1140 655 1140" fill="none" stroke="#000" stroke-width="2.5" stroke-dasharray="14 9"/><path d="M165 1095 C120 1140 85 1185 105 1225 C125 1255 165 1235 150 1200" fill="none" stroke="#000" stroke-width="9" stroke-linecap="round"/><path d="M288 1492 l14 20 l-8 8 l8 12 l-14 16 l-14 -16 l8 -12 l-8 -8 z" fill="#000" stroke="none" stroke-width="0"/><path d="M407 1558 l14 20 l-8 8 l8 12 l-14 16 l-14 -16 l8 -12 l-8 -8 z" fill="#000" stroke="none" stroke-width="0"/><path d="M520 1115 l14 20 l-8 8 l8 12 l-14 16 l-14 -16 l8 -12 l-8 -8 z" fill="#000" stroke="none" stroke-width="0"/><path d="M500 1380 l14 20 l-8 8 l8 12 l-14 16 l-14 -16 l8 -12 l-8 -8 z" fill="#000" stroke="none" stroke-width="0"/><path d="M570 1380 h40 v55 h-10 l-10 50 l-10 -50 h-10 z" fill="#000" stroke="none" stroke-width="0"/><path d="M581 1392 h18 v16 h-18 z" fill="#fff" stroke="none" stroke-width="0"/><path d="M620 1410 h40 v55 h-10 l-10 50 l-10 -50 h-10 z" fill="#000" stroke="none" stroke-width="0"/><path d="M631 1422 h18 v16 h-18 z" fill="#fff" stroke="none" stroke-width="0"/><path d="M680 1350 h40 v55 h-10 l-10 50 l-10 -50 h-10 z" fill="#000" stroke="none" stroke-width="0"/><path d="M691 1362 h18 v16 h-18 z" fill="#fff" stroke="none" stroke-width="0"/><path d="M85 1262 L268 1262 C257.02 1299.35 208.525 1336.7 194.8 1345 L158.2 1345 C144.475 1336.7 95.98 1299.35 85 1262 Z" fill="#000" stroke="none" stroke-width="0"/><path d="M135.325 1291.05 L157.97125 1335.04" fill="none" stroke="#fff" stroke-width="5"/><path d="M162.775 1291.05 L170.32375 1335.04" fill="none" stroke="#fff" stroke-width="5"/><path d="M190.225 1291.05 L182.67625 1335.04" fill="none" stroke="#fff" stroke-width="5"/><path d="M217.675 1291.05 L195.02875 1335.04" fill="none" stroke="#fff" stroke-width="5"/><path d="M91 1271 L262 1271" fill="none" stroke="#fff" stroke-width="3"/><path d="M150 1345 h52 l8 22 h-68 z" fill="#000" stroke="none" stroke-width="0"/><path d="M135 1378 C170 1372 215 1380 255 1400 L240 1420 C210 1400 165 1395 140 1400 Z" fill="#000" stroke="none" stroke-width="0"/><path d="M322 1185 L510 1185 C498.72 1233.15 448.9 1281.3 434.8 1292 L397.2 1292 C383.1 1281.3 333.28 1233.15 322 1185 Z" fill="#000" stroke="none" stroke-width="0"/><path d="M373.7 1222.45 L396.965 1279.16" fill="none" stroke="#fff" stroke-width="5"/><path d="M401.9 1222.45 L409.655 1279.16" fill="none" stroke="#fff" stroke-width="5"/><path d="M430.1 1222.45 L422.345 1279.16" fill="none" stroke="#fff" stroke-width="5"/><path d="M458.3 1222.45 L435.035 1279.16" fill="none" stroke="#fff" stroke-width="5"/><path d="M328 1194 L504 1194" fill="none" stroke="#fff" stroke-width="3"/><path d="M392 1292 h50 l6 18 h-62 z" fill="#000" stroke="none" stroke-width="0"/><path d="M372 905 L555 905 C544.02 935.15 495.525 965.3 481.8 972 L445.2 972 C431.475 965.3 382.98 935.15 372 905 Z" fill="#000" stroke="none" stroke-width="0"/><path d="M422.325 928.45 L444.97125 963.96" fill="none" stroke="#fff" stroke-width="5"/><path d="M449.775 928.45 L457.32375 963.96" fill="none" stroke="#fff" stroke-width="5"/><path d="M477.225 928.45 L469.67625 963.96" fill="none" stroke="#fff" stroke-width="5"/><path d="M504.675 928.45 L482.02875 963.96" fill="none" stroke="#fff" stroke-width="5"/><path d="M378 914 L549 914" fill="none" stroke="#fff" stroke-width="3"/><path d="M447 972 h34 l4 18 h-42 z" fill="#000" stroke="none" stroke-width="0"/><path d="M258 1340 L388 1340 C380.2 1367.9 345.75 1395.8 336.0 1402 L310.0 1402 C300.25 1395.8 265.8 1367.9 258 1340 Z" fill="#000" stroke="none" stroke-width="0"/><path d="M293.75 1361.7 L309.8375 1394.56" fill="none" stroke="#fff" stroke-width="5"/><path d="M313.25 1361.7 L318.6125 1394.56" fill="none" stroke="#fff" stroke-width="5"/><path d="M332.75 1361.7 L327.3875 1394.56" fill="none" stroke="#fff" stroke-width="5"/><path d="M352.25 1361.7 L336.1625 1394.56" fill="none" stroke="#fff" stroke-width="5"/><path d="M264 1349 L382 1349" fill="none" stroke="#fff" stroke-width="3"/><path d="M432 692 L488 692 L488 905 L432 905 Z" fill="#fff" stroke="#000" stroke-width="6"/><path d="M466.72 698 L484 698 L484 905 L466.72 905 Z" fill="#000" stroke="none" stroke-width="0"/><path d="M460 555 C434 615 438 655 460 684 C482 655 480 610 460 555 Z" fill="#fff" stroke="#000" stroke-width="5"/><path d="M460 662 L460 692" fill="none" stroke="#000" stroke-width="4"/><path d="M385 945 L440 945 L440 1185 L385 1185 Z" fill="#fff" stroke="#000" stroke-width="6"/><path d="M419.1 951 L436 951 L436 1185 L419.1 1185 Z" fill="#000" stroke="none" stroke-width="0"/><path d="M412 812 C386 872 390 912 412 937 C434 912 432 867 412 812 Z" fill="#fff" stroke="#000" stroke-width="5"/><path d="M412 915 L412 945" fill="none" stroke="#000" stroke-width="4"/><path d="M322 1228 L354 1228 L354 1340 L322 1340 Z" fill="#fff" stroke="#000" stroke-width="6"/><path d="M341.84 1234 L350 1234 L350 1340 L341.84 1340 Z" fill="#000" stroke="none" stroke-width="0"/><path d="M345 1040 C319 1100 323 1140 345 1220 C367 1140 365 1095 345 1040 Z" fill="#fff" stroke="#000" stroke-width="5"/><path d="M345 1198 L345 1228" fill="none" stroke="#000" stroke-width="4"/><path d="M165 1135 L212 1135 L212 1262 L165 1262 Z" fill="#fff" stroke="#000" stroke-width="6"/><path d="M194.14 1141 L208 1141 L208 1262 L194.14 1262 Z" fill="#000" stroke="none" stroke-width="0"/><path d="M188 1135 C162 1195 166 1235 188 1127 C210 1235 208 1190 188 1135 Z" fill="#fff" stroke="#000" stroke-width="5"/><path d="M188 1105 L188 1135" fill="none" stroke="#000" stroke-width="4"/><path d="M100 442 L385 402 L378 424 C338 470 330 545 352 592 C358 625 322 652 292 656 L240 656 C212 642 186 622 190 590 C200 540 160 482 100 462 Z" fill="#000" stroke="none" stroke-width="0"/><path d="M140 462 L345 432 C318 470 312 520 322 560 L240 590 C230 540 190 490 140 462 Z" fill="#fff" stroke="none" stroke-width="0"/><path d="M175 462 L232 600" fill="none" stroke="#000" stroke-width="8"/><path d="M202 458 L246 600" fill="none" stroke="#000" stroke-width="8"/><path d="M229 454 L260 600" fill="none" stroke="#000" stroke-width="8"/><path d="M256 450 L274 600" fill="none" stroke="#000" stroke-width="8"/><path d="M283 446 L288 600" fill="none" stroke="#000" stroke-width="8"/><path d="M310 442 L302 600" fill="none" stroke="#000" stroke-width="8"/><path d="M205 600 C240 625 300 625 340 595" fill="none" stroke="#fff" stroke-width="6" stroke-dasharray="6 6"/><path d="M263 656 h30 l6 50 l-10 30 l34 126 h-86 l36 -126 l-12 -30 z" fill="#000" stroke="none" stroke-width="0"/><path d="M268 760 L250 850 h50 Z" fill="#fff" stroke="none" stroke-width="0"/><path d="M120 722 C158 690 208 718 202 770 C200 800 184 812 178 830 L214 852 L278 800 L302 822 L252 900 L328 880 L346 922 L252 952 C205 962 192 1000 202 1040 L298 1050 L322 1092 L334 1182 L300 1184 L284 1102 L232 1092 L252 1252 L210 1252 L190 1122 C120 1100 68 1000 80 900 C86 820 100 760 120 722 Z" fill="#000" stroke="none" stroke-width="0"/><path d="M196 872 C172 922 172 1000 212 1042 L246 1030 C214 990 216 920 240 884 Z" fill="#fff" stroke="none" stroke-width="0"/><path d="M150 748 C168 738 190 748 190 772 C188 794 170 806 152 800 C138 790 138 760 150 748 Z" fill="#fff" stroke="none" stroke-width="0"/><path d="M156 764 h8 v8 h-8z M176 766 h8 v8 h-8z M160 786 h22 v5 h-22z" fill="#000" stroke="none" stroke-width="0"/><path d="M100 860 l26 -10" fill="none" stroke="#fff" stroke-width="3"/><path d="M102 890 l26 -10" fill="none" stroke="#fff" stroke-width="3"/><path d="M104 920 l26 -10" fill="none" stroke="#fff" stroke-width="3"/><path d="M106 950 l26 -10" fill="none" stroke="#fff" stroke-width="3"/><path d="M108 980 l26 -10" fill="none" stroke="#fff" stroke-width="3"/><path d="M110 1010 l26 -10" fill="none" stroke="#fff" stroke-width="3"/><path d="M112 1040 l26 -10" fill="none" stroke="#fff" stroke-width="3"/><path d="M645 650 m-126 125 a126 126 0 1 0 252 0 a126 126 0 1 0 -252 0" fill="none" stroke="#000" stroke-width="9"/><path d="M640 642 C560 682 540 800 580 900 C600 950 690 960 700 902 L690 822 L750 802 C792 790 790 732 742 722 L700 702 Z" fill="#000" stroke="none" stroke-width="0"/><path d="M722 640 m-46 0 a46 49 0 1 0 92 0 a46 49 0 1 0 -92 0" fill="#000" stroke="none" stroke-width="0"/><path d="M722 650 m-26 0 a26 30 0 1 0 52 0 a26 30 0 1 0 -52 0" fill="#fff" stroke="none" stroke-width="0"/><path d="M708 640 h9 v9 h-9z M728 640 h9 v9 h-9z M712 666 h22 v5 h-22z" fill="#000" stroke="none" stroke-width="0"/><path d="M640 800 C620 850 630 900 660 930 L690 925 C665 890 662 850 680 815 Z" fill="#fff" stroke="none" stroke-width="0"/><path d="M600 950 h60 l10 25 h-80 z" fill="#000" stroke="none" stroke-width="0"/><path d="M700 760 C740 745 770 760 765 790 C760 815 730 820 705 812 Z" fill="#fff" stroke="#000" stroke-width="4"/></g><path d="M610 585 L705 735" fill="none" stroke="#000" stroke-width="16"/><path d="M610 585 L705 735" fill="none" stroke="#fff" stroke-width="4" stroke-dasharray="5 7"/><ellipse cx="545" cy="445" rx="82" ry="152" transform="rotate(-23 545 445)" fill="#fff" stroke="#000" stroke-width="15"/><ellipse cx="545" cy="445" rx="66" ry="136" transform="rotate(-23 545 445)" fill="none" stroke="#000" stroke-width="2" stroke-dasharray="3 5"/><path d="M1012 800 L1172 492" fill="none" stroke="#000" stroke-width="13"/><path d="M1012 800 L1172 492" fill="none" stroke="#fff" stroke-width="4" stroke-dasharray="6 6"/><path d="M1118 505 C1125 455 1150 430 1165 380 L1222 300 L1232 306 L1190 395 L1240 298 L1250 303 L1210 400 L1262 300 L1272 306 L1228 410 L1282 320 L1290 326 L1225 470 C1210 510 1175 535 1150 528 C1130 524 1115 520 1118 505 Z" fill="#000" stroke="none" stroke-width="0"/><path d="M860 75 C832 120 828 175 850 205 L846 470 L874 470 L870 205 C892 175 888 120 860 75 Z" fill="#000" stroke="none" stroke-width="0"/><path d="M852 478 C822.0 472.0 746.0 460.0 740 442.8 C773.6 449.2 816.0 448.0 852 461.2 Z" fill="#000" stroke="none" stroke-width="0"/><path d="M837.6 466.0 C813.6 462.0 766.4 458.8 747.2 446.8" fill="none" stroke="#fff" stroke-width="5"/><path d="M740 442.8 c-16 -22 -36 -30 -30 -8" fill="none" stroke="#000" stroke-width="6"/><path d="M868 478 C898.0 472.0 974.0 460.0 980 442.8 C946.4 449.2 904.0 448.0 868 461.2 Z" fill="#000" stroke="none" stroke-width="0"/><path d="M882.4 466.0 C906.4 462.0 953.6 458.8 972.8 446.8" fill="none" stroke="#fff" stroke-width="5"/><path d="M980 442.8 c16 -22 36 -30 30 -8" fill="none" stroke="#000" stroke-width="6"/><path d="M852 470 C803.25 447.5 674.75 402.5 665 338.0 C719.6 362.0 793.5 357.5 852 407.0 Z" fill="#000" stroke="none" stroke-width="0"/><path d="M828.6 425.0 C789.6 410.0 707.9 398.0 676.7 353.0" fill="none" stroke="#fff" stroke-width="12.750000000000002"/><path d="M665 338.0 c-16 -22 -36 -30 -30 -8" fill="none" stroke="#000" stroke-width="6"/><path d="M868 470 C916.75 447.5 1045.25 402.5 1055 338.0 C1000.4 362.0 926.5 357.5 868 407.0 Z" fill="#000" stroke="none" stroke-width="0"/><path d="M891.4 425.0 C930.4 410.0 1012.1 398.0 1043.3 353.0" fill="none" stroke="#fff" stroke-width="12.750000000000002"/><path d="M1055 338.0 c16 -22 36 -30 30 -8" fill="none" stroke="#000" stroke-width="6"/><path d="M852 410 C804.5 383.75 679.5 331.25 670 256.0 C723.2 284.0 795.0 278.75 852 336.5 Z" fill="#000" stroke="none" stroke-width="0"/><path d="M829.2 357.5 C791.2 340.0 711.8 326.0 681.4 273.5" fill="none" stroke="#fff" stroke-width="14.875000000000002"/><path d="M670 256.0 c-16 -22 -36 -30 -30 -8" fill="none" stroke="#000" stroke-width="6"/><path d="M868 410 C915.5 383.75 1040.5 331.25 1050 256.0 C996.8 284.0 925.0 278.75 868 336.5 Z" fill="#000" stroke="none" stroke-width="0"/><path d="M890.8 357.5 C928.8 340.0 1008.2 326.0 1038.6 273.5" fill="none" stroke="#fff" stroke-width="14.875000000000002"/><path d="M1050 256.0 c16 -22 36 -30 30 -8" fill="none" stroke="#000" stroke-width="6"/><path d="M852 350 C810.75 324.5 703.25 273.5 695 200.4 C741.2 227.6 802.5 222.5 852 278.6 Z" fill="#000" stroke="none" stroke-width="0"/><path d="M832.2 299.0 C799.2 282.0 731.3 268.4 704.9 217.4" fill="none" stroke="#fff" stroke-width="14.450000000000001"/><path d="M695 200.4 c-16 -22 -36 -30 -30 -8" fill="none" stroke="#000" stroke-width="6"/><path d="M868 350 C909.25 324.5 1016.75 273.5 1025 200.4 C978.8 227.6 917.5 222.5 868 278.6 Z" fill="#000" stroke="none" stroke-width="0"/><path d="M887.8 299.0 C920.8 282.0 988.7 268.4 1015.1 217.4" fill="none" stroke="#fff" stroke-width="14.450000000000001"/><path d="M1025 200.4 c16 -22 36 -30 30 -8" fill="none" stroke="#000" stroke-width="6"/><path d="M852 290 C818.25 267.5 731.75 222.5 725 158.0 C762.8 182.0 811.5 177.5 852 227.0 Z" fill="#000" stroke="none" stroke-width="0"/><path d="M835.8 245.0 C808.8 230.0 754.7 218.0 733.1 173.0" fill="none" stroke="#fff" stroke-width="12.750000000000002"/><path d="M725 158.0 c-16 -22 -36 -30 -30 -8" fill="none" stroke="#000" stroke-width="6"/><path d="M868 290 C901.75 267.5 988.25 222.5 995 158.0 C957.2 182.0 908.5 177.5 868 227.0 Z" fill="#000" stroke="none" stroke-width="0"/><path d="M884.2 245.0 C911.2 230.0 965.3 218.0 986.9 173.0" fill="none" stroke="#fff" stroke-width="12.750000000000002"/><path d="M995 158.0 c16 -22 36 -30 30 -8" fill="none" stroke="#000" stroke-width="6"/><path d="M852 235 C828.25 217.0 769.75 181.0 765 129.4 C791.6 148.6 823.5 145.0 852 184.6 Z" fill="#000" stroke="none" stroke-width="0"/><path d="M840.6 199.0 C821.6 187.0 785.9 177.4 770.7 141.4" fill="none" stroke="#fff" stroke-width="10.200000000000001"/><path d="M765 129.4 c-16 -22 -36 -30 -30 -8" fill="none" stroke="#000" stroke-width="6"/><path d="M868 235 C891.75 217.0 950.25 181.0 955 129.4 C928.4 148.6 896.5 145.0 868 184.6 Z" fill="#000" stroke="none" stroke-width="0"/><path d="M879.4 199.0 C898.4 187.0 934.1 177.4 949.3 141.4" fill="none" stroke="#fff" stroke-width="10.200000000000001"/><path d="M955 129.4 c16 -22 36 -30 30 -8" fill="none" stroke="#000" stroke-width="6"/><path d="M846 440 q-50 -40 -95 -75" fill="none" stroke="#fff" stroke-width="3"/><path d="M846 382 q-50 -40 -95 -75" fill="none" stroke="#fff" stroke-width="3"/><path d="M846 324 q-50 -40 -95 -75" fill="none" stroke="#fff" stroke-width="3"/><path d="M846 266 q-50 -40 -95 -75" fill="none" stroke="#fff" stroke-width="3"/><path d="M846 208 q-50 -40 -95 -75" fill="none" stroke="#fff" stroke-width="3"/><path d="M874 440 q50 -40 95 -75" fill="none" stroke="#fff" stroke-width="3"/><path d="M874 382 q50 -40 95 -75" fill="none" stroke="#fff" stroke-width="3"/><path d="M874 324 q50 -40 95 -75" fill="none" stroke="#fff" stroke-width="3"/><path d="M874 266 q50 -40 95 -75" fill="none" stroke="#fff" stroke-width="3"/><path d="M874 208 q50 -40 95 -75" fill="none" stroke="#fff" stroke-width="3"/><path d="M828 490 L892 490 L896 522 C900 600 948 680 945 742 C942 800 905 850 898 902 L822 902 C815 850 778 800 775 742 C772 680 820 600 824 522 Z" fill="#000" stroke="none" stroke-width="0"/><path d="M860 520 C838 620 835 760 860 888 C885 760 882 620 860 520 Z" fill="#fff" stroke="none" stroke-width="0"/><path d="M860 560 L860 860" fill="none" stroke="#000" stroke-width="4" stroke-dasharray="10 6"/><path d="M834 560 C798 640 794 780 830 880" fill="none" stroke="#fff" stroke-width="12"/><path d="M812 610 C784 680 786 780 810 860" fill="none" stroke="#fff" stroke-width="6"/><path d="M886 560 C922 640 926 780 890 880" fill="none" stroke="#fff" stroke-width="12"/><path d="M908 610 C936 680 934 780 910 860" fill="none" stroke="#fff" stroke-width="6"/><path d="M818 478 h84 v16 h-84 z" fill="#000" stroke="none" stroke-width="0"/><path d="M800 902 h120 l14 44 h-148 z" fill="#000" stroke="none" stroke-width="0"/><path d="M846 915 h28 v14 h-28z" fill="#fff" stroke="none" stroke-width="0"/><path d="M735 985 C735 952 780 945 860 945 C940 945 985 952 985 985 L985 1062 C985 1092 940 1102 860 1102 C780 1102 735 1092 735 1062 Z" fill="#000" stroke="none" stroke-width="0"/><path d="M768 992 h184 v66 h-184 z" fill="#f4f4f4" stroke="none" stroke-width="0"/><path d="M772 960 a8 9 0 0 1 16 0" fill="none" stroke="#fff" stroke-width="3"/><path d="M772 1090 a8 9 0 0 0 16 0" fill="none" stroke="#fff" stroke-width="3"/><path d="M792 960 a8 9 0 0 1 16 0" fill="none" stroke="#fff" stroke-width="3"/><path d="M792 1090 a8 9 0 0 0 16 0" fill="none" stroke="#fff" stroke-width="3"/><path d="M812 960 a8 9 0 0 1 16 0" fill="none" stroke="#fff" stroke-width="3"/><path d="M812 1090 a8 9 0 0 0 16 0" fill="none" stroke="#fff" stroke-width="3"/><path d="M832 960 a8 9 0 0 1 16 0" fill="none" stroke="#fff" stroke-width="3"/><path d="M832 1090 a8 9 0 0 0 16 0" fill="none" stroke="#fff" stroke-width="3"/><path d="M852 960 a8 9 0 0 1 16 0" fill="none" stroke="#fff" stroke-width="3"/><path d="M852 1090 a8 9 0 0 0 16 0" fill="none" stroke="#fff" stroke-width="3"/><path d="M872 960 a8 9 0 0 1 16 0" fill="none" stroke="#fff" stroke-width="3"/><path d="M872 1090 a8 9 0 0 0 16 0" fill="none" stroke="#fff" stroke-width="3"/><path d="M892 960 a8 9 0 0 1 16 0" fill="none" stroke="#fff" stroke-width="3"/><path d="M892 1090 a8 9 0 0 0 16 0" fill="none" stroke="#fff" stroke-width="3"/><path d="M912 960 a8 9 0 0 1 16 0" fill="none" stroke="#fff" stroke-width="3"/><path d="M912 1090 a8 9 0 0 0 16 0" fill="none" stroke="#fff" stroke-width="3"/><path d="M932 960 a8 9 0 0 1 16 0" fill="none" stroke="#fff" stroke-width="3"/><path d="M932 1090 a8 9 0 0 0 16 0" fill="none" stroke="#fff" stroke-width="3"/><text x="860" y="1050" text-anchor="middle" font-size="70" style="font-family:'Liberation Serif',serif;fill:#000;letter-spacing:10px">SLS</text><path d="M775 1108 L945 1108 C945 1140 915 1150 906 1182 C900 1212 906 1236 932 1252 L788 1252 C814 1236 820 1212 814 1182 C805 1150 775 1140 775 1108 Z" fill="#000" stroke="none" stroke-width="0"/><path d="M812.0 1135 C828 1170 828 1200 818.4 1240" fill="none" stroke="#fff" stroke-width="6"/><path d="M842.0 1135 C848 1170 848 1200 844.4 1240" fill="none" stroke="#fff" stroke-width="6"/><path d="M878.0 1135 C872 1170 872 1200 875.6 1240" fill="none" stroke="#fff" stroke-width="6"/><path d="M908.0 1135 C892 1170 892 1200 901.6 1240" fill="none" stroke="#fff" stroke-width="6"/><path d="M772 1252 h176 v30 h-176z M760 1284 h200 v28 h-200z M735 1314 C735 1300 985 1300 985 1314 L1000 1345 L720 1345 Z" fill="#000" stroke="none" stroke-width="0"/><path d="M772 1268 h176" fill="none" stroke="#fff" stroke-width="3"/><path d="M765 1298 h190" fill="none" stroke="#fff" stroke-width="4"/><path d="M740 1330 h240" fill="none" stroke="#fff" stroke-width="4"/><path d="M722 1345 L998 1345 C1012 1380 1015 1410 1010 1442 L710 1442 C705 1410 708 1380 722 1345 Z" fill="#000" stroke="none" stroke-width="0"/><path d="M735 1358 h250" fill="none" stroke="#fff" stroke-width="3.5"/><path d="M734 1371 h252" fill="none" stroke="#fff" stroke-width="3.5"/><path d="M733 1384 h254" fill="none" stroke="#fff" stroke-width="3.5"/><path d="M732 1397 h256" fill="none" stroke="#fff" stroke-width="3.5"/><path d="M731 1410 h258" fill="none" stroke="#fff" stroke-width="3.5"/><path d="M730 1423 h260" fill="none" stroke="#fff" stroke-width="3.5"/><path d="M702 1440 L1018 1440 C1020 1542 962 1612 906 1628 L814 1628 C758 1612 700 1542 702 1440 Z" fill="#000" stroke="none" stroke-width="0"/><path d="M860 1462 l-28 95 l28 45 l28 -45 z" fill="none" stroke="#fff" stroke-width="4"/><path d="M800 1470 c-6 30 8 90 28 130" fill="none" stroke="#fff" stroke-width="5"/><path d="M760 1466 c-4 30 14 80 44 112" fill="none" stroke="#fff" stroke-width="5"/><path d="M728 1462 c-2 24 16 60 44 86" fill="none" stroke="#fff" stroke-width="4"/><path d="M920 1470 c6 30 -8 90 -28 130" fill="none" stroke="#fff" stroke-width="5"/><path d="M960 1466 c4 30 -14 80 -44 112" fill="none" stroke="#fff" stroke-width="5"/><path d="M992 1462 c2 24 -16 60 -44 86" fill="none" stroke="#fff" stroke-width="4"/><path d="M712 1452 h296" fill="none" stroke="#fff" stroke-width="3"/><path d="M832 1628 h56 v34 h-56 z" fill="#000" stroke="none" stroke-width="0"/><path d="M812 1640 h96" fill="none" stroke="#000" stroke-width="8"/><path d="M745 1665 L975 1665 C970 1702 930 1762 886 1792 L834 1792 C790 1762 750 1702 745 1665 Z" fill="#000" stroke="none" stroke-width="0"/><path d="M860 1690 l-20 60 l20 30 l20 -30 z" fill="none" stroke="#fff" stroke-width="4"/><path d="M810 1690 c0 30 10 60 24 85" fill="none" stroke="#fff" stroke-width="4"/><path d="M776 1688 c0 24 14 50 36 66" fill="none" stroke="#fff" stroke-width="4"/><path d="M910 1690 c0 30 -10 60 -24 85" fill="none" stroke="#fff" stroke-width="4"/><path d="M944 1688 c0 24 -14 50 -36 66" fill="none" stroke="#fff" stroke-width="4"/><path d="M758 1677 h204" fill="none" stroke="#fff" stroke-width="3"/><path d="M846 1795 h28 l-4 15 C892 1822 890 1842 860 1878 C830 1842 828 1822 850 1810 Z" fill="#000" stroke="none" stroke-width="0"/></g></g>
<g id="text"><text class="t" x="1470.7" y="1557.8" font-size="17.3" textLength="77.9" lengthAdjust="spacingAndGlyphs">TERRACE</text>
<text class="t" x="1466.4" y="1579.1" font-size="17.3" textLength="81.1" lengthAdjust="spacingAndGlyphs">561 SQ.FT.</text>
<text class="t" x="1404.7" y="1787.4" font-size="17.3" textLength="75" lengthAdjust="spacingAndGlyphs">KITCHEN</text>
<text class="t" x="1639" y="1696" font-size="17.3" textLength="101.9" lengthAdjust="spacingAndGlyphs">BEDROOM 2</text>
<text class="t" x="1633.2" y="1718.2" font-size="17.3" textLength="111.9" lengthAdjust="spacingAndGlyphs">11’-8”&#160;&#160; x 10’-6”</text>
<text class="t" x="1883.1" y="1696" font-size="17.3" textLength="100.7" lengthAdjust="spacingAndGlyphs">BEDROOM 3</text>
<text class="t" x="1877.3" y="1718.2" font-size="17.3" textLength="105.7" lengthAdjust="spacingAndGlyphs">12’-8” x 10’-6”</text>
<text class="t" x="1620" y="2036.9" font-size="17.3" textLength="33.4" lengthAdjust="spacingAndGlyphs">WIC</text>
<text class="t" x="1981.8" y="1984.4" font-size="17.3" textLength="20.6" lengthAdjust="spacingAndGlyphs">CL</text>
<text class="t" x="1942.6" y="2071.1" font-size="17.3" textLength="46.2" lengthAdjust="spacingAndGlyphs">BATH</text>
<text class="t" x="1068.4" y="1898.9" font-size="17.3" textLength="122.1" lengthAdjust="spacingAndGlyphs">LIVING/DINING</text>
<text class="t" x="1064.6" y="1921" font-size="17.3" textLength="114.2" lengthAdjust="spacingAndGlyphs">25’-3” x 13’-10”</text>
<text class="t" x="1063.4" y="2377.5" font-size="17.3" textLength="161.3" lengthAdjust="spacingAndGlyphs">MASTER BEDROOM</text>
<text class="t" x="1087.9" y="2399.7" font-size="17.3" textLength="104.9" lengthAdjust="spacingAndGlyphs">12’-7” x 14’-0”</text>
<text class="t" x="1356.8" y="2417.5" font-size="17.3" textLength="20.2" lengthAdjust="spacingAndGlyphs">CL</text>
<text class="t" x="1544.2" y="2372.4" font-size="17.3" textLength="33.4" lengthAdjust="spacingAndGlyphs">WIC</text>
<text class="t" x="1677.9" y="2360.8" font-size="17.3" text-anchor="middle">D</text>
<text class="t" x="1672" y="2419.9" font-size="17.3" text-anchor="middle">W</text>
<text class="t" x="1726.5" y="2436.2" font-size="17.3" textLength="63.3" lengthAdjust="spacingAndGlyphs">UTILITY</text>
<text class="t" x="1730" y="2458" font-size="17.3" textLength="51.7" lengthAdjust="spacingAndGlyphs">ROOM</text>
<text class="t" x="1742" y="2504.2" font-size="17.3" textLength="31.9" lengthAdjust="spacingAndGlyphs">A/C</text>
<text class="t" x="1468" y="2502.3" font-size="17.3" textLength="70.7" lengthAdjust="spacingAndGlyphs">MASTER</text>
<text class="t" x="1480.1" y="2524" font-size="17.3" textLength="47" lengthAdjust="spacingAndGlyphs">BATH</text>
<text class="t" x="1796.4" y="2578.8" font-size="17.3" textLength="73.9" lengthAdjust="spacingAndGlyphs">POWDER</text>
<text class="t" x="1807.3" y="2600.2" font-size="17.3" textLength="52.1" lengthAdjust="spacingAndGlyphs">ROOM</text>
<text class="t" x="1180.7" y="1060.6" font-size="17.3" textLength="92.7" lengthAdjust="spacingAndGlyphs">SKY LOBBY</text>
<text class="t" x="1172.3" y="1081.8" font-size="17.3" textLength="107.9" lengthAdjust="spacingAndGlyphs">12’-6”&#160; x 18’-4”</text>
<text class="t" x="1422.4" y="670" font-size="17.3" textLength="130.6" lengthAdjust="spacingAndGlyphs">ROOF TERRACE</text>
<text class="t" x="1445.1" y="692.1" font-size="17.3" textLength="84.5" lengthAdjust="spacingAndGlyphs">995 SQ.FT.</text>
<text class="t" x="1776.2" y="539.7" font-size="17.3" textLength="32.6" lengthAdjust="spacingAndGlyphs">SPA</text>
<text class="ts" x="96.8" y="529.2" font-size="31.5" textLength="405.2" lengthAdjust="spacingAndGlyphs">SLS HOTEL &amp; RESIDENCES</text>
<text class="ts" x="230.8" y="570.4" font-size="27.5" textLength="138.2" lengthAdjust="spacingAndGlyphs">BRICKELL</text>
<path d="M106.3 2776.9L2245.7 2776.9" style="fill:none;stroke:#2a2a2a;stroke-width:1.3"/>
<path d="M106.3 2854.6L2245.7 2854.6" style="fill:none;stroke:#2a2a2a;stroke-width:1.3"/>
<path d="M106.3 2933.2L2245.7 2933.2" style="fill:none;stroke:#2a2a2a;stroke-width:1.3"/>
<path d="M106.3 2776.9L106.3 2933.2" style="fill:none;stroke:#2a2a2a;stroke-width:1.3"/>
<path d="M398.3 2776.9L398.3 2933.2" style="fill:none;stroke:#2a2a2a;stroke-width:1.3"/>
<path d="M853.8 2776.9L853.8 2933.2" style="fill:none;stroke:#2a2a2a;stroke-width:1.3"/>
<path d="M1077.6 2776.9L1077.6 2933.2" style="fill:none;stroke:#2a2a2a;stroke-width:1.3"/>
<path d="M1378 2776.9L1378 2933.2" style="fill:none;stroke:#2a2a2a;stroke-width:1.3"/>
<path d="M1595.4 2776.9L1595.4 2933.2" style="fill:none;stroke:#2a2a2a;stroke-width:1.3"/>
<path d="M1812.2 2776.9L1812.2 2933.2" style="fill:none;stroke:#2a2a2a;stroke-width:1.3"/>
<path d="M2028.9 2776.9L2028.9 2933.2" style="fill:none;stroke:#2a2a2a;stroke-width:1.3"/>
<path d="M2245.7 2776.9L2245.7 2933.2" style="fill:none;stroke:#2a2a2a;stroke-width:1.3"/>
<rect x="1378" y="2697.6" width="867.7" height="76.6" style="fill:none;stroke:#2a2a2a;stroke-width:1.3"/>
<path d="M1812.2 2697.6L1812.2 2774.2" style="fill:none;stroke:#2a2a2a;stroke-width:1.3"/>
<text class="tb" x="191" y="2830.8" font-size="31.5" textLength="142.4" lengthAdjust="spacingAndGlyphs">MODEL</text>
<text class="tb" x="544" y="2825.1" font-size="31.5" textLength="166.8" lengthAdjust="spacingAndGlyphs">Line/Unit</text>
<text class="tb" x="931.2" y="2830.8" font-size="31.5" textLength="91.1" lengthAdjust="spacingAndGlyphs">Floor</text>
<text class="tb" x="1135.4" y="2830.4" font-size="31.5" textLength="198" lengthAdjust="spacingAndGlyphs">Bed/Baths</text>
<text class="tb" x="1432.4" y="2830.4" font-size="31.5" textLength="128.7" lengthAdjust="spacingAndGlyphs">Interior</text>
<text class="tb" x="1641.4" y="2830.4" font-size="31.5" textLength="142.9" lengthAdjust="spacingAndGlyphs">Balcony</text>
<text class="tb" x="1858.1" y="2830.4" font-size="31.5" textLength="129.4" lengthAdjust="spacingAndGlyphs">Interior</text>
<text class="tb" x="2065.1" y="2830.4" font-size="31.5" textLength="143" lengthAdjust="spacingAndGlyphs">Balcony</text>
<text class="tb" x="1488.7" y="2739.6" font-size="31.5" textLength="222.6" lengthAdjust="spacingAndGlyphs">Square Feet</text>
<text class="tb" x="1917.6" y="2739.6" font-size="31.5" textLength="268.5" lengthAdjust="spacingAndGlyphs">Square Meters</text>
<text class="t" x="135.8" y="2919" font-size="41" textLength="253.4" lengthAdjust="spacingAndGlyphs">Penthouse 07</text>
<text class="t" x="562.2" y="2913.6" font-size="41" textLength="131" lengthAdjust="spacingAndGlyphs">UPH07</text>
<text class="t" x="920.9" y="2914.5" font-size="41" textLength="109.9" lengthAdjust="spacingAndGlyphs">53-54</text>
<text class="t" x="1177.5" y="2914.3" font-size="41" textLength="112.5" lengthAdjust="spacingAndGlyphs">3 / 2.5</text>
<text class="t" x="1438.8" y="2914.3" font-size="41" textLength="77" lengthAdjust="spacingAndGlyphs">1912</text>
<text class="t" x="1656.9" y="2914.3" font-size="41" textLength="86" lengthAdjust="spacingAndGlyphs">1556</text>
<text class="t" x="1866.5" y="2914.3" font-size="41" textLength="111.9" lengthAdjust="spacingAndGlyphs">177.63</text>
<text class="t" x="2075.5" y="2914.3" font-size="41" textLength="120.3" lengthAdjust="spacingAndGlyphs">144.55</text>
<text class="tb" x="2296.3" y="2809.5" font-size="46" textLength="226.1" lengthAdjust="spacingAndGlyphs" style="font-weight:bold">CONDO</text>
<text class="tb" x="2545.5" y="2809.5" font-size="46" textLength="397.8" lengthAdjust="spacingAndGlyphs" style="stroke:#000;stroke-width:2.2;stroke-linejoin:round">BLACKBOOK</text>
<text class="tb" x="2367.5" y="2870.6" font-size="45.6" textLength="504.6" lengthAdjust="spacingAndGlyphs" style="stroke:#000;stroke-width:2.2;stroke-linejoin:round">(786) 930-4220</text>
<text class="tw" x="2527.8" y="232.9" font-size="15.4" textLength="42.6" lengthAdjust="spacingAndGlyphs">POOL</text>
<text class="tw" x="2527.8" y="515.8" font-size="15.4" textLength="42.6" lengthAdjust="spacingAndGlyphs">POOL</text>
<text class="tw" x="2629.8" y="176.1" font-size="24.5" textLength="50.4" lengthAdjust="spacingAndGlyphs">UPH</text>
<text class="tw" x="2640.4" y="205.1" font-size="24.5" textLength="29.2" lengthAdjust="spacingAndGlyphs">07</text>
<text class="t" x="2748.7" y="176.1" font-size="24.5" textLength="50.4" lengthAdjust="spacingAndGlyphs">UPH</text>
<text class="t" x="2759.3" y="205.1" font-size="24.5" textLength="29.2" lengthAdjust="spacingAndGlyphs">01</text>
<text class="t" x="2610.8" y="274.5" font-size="24.5" textLength="50.4" lengthAdjust="spacingAndGlyphs">UPH</text>
<text class="t" x="2621.4" y="303.9" font-size="24.5" textLength="29.2" lengthAdjust="spacingAndGlyphs">06</text>
<text class="t" x="2733.6" y="285.6" font-size="24.5" textLength="50.4" lengthAdjust="spacingAndGlyphs">UPH</text>
<text class="t" x="2744.2" y="314.9" font-size="24.5" textLength="29.2" lengthAdjust="spacingAndGlyphs">02</text>
<text class="t" x="2617.1" y="333.9" font-size="24.5" textLength="50.4" lengthAdjust="spacingAndGlyphs">UPH</text>
<text class="t" x="2627.7" y="362.9" font-size="24.5" textLength="29.2" lengthAdjust="spacingAndGlyphs">05</text>
<text class="t" x="2610.8" y="461.3" font-size="24.5" textLength="50.4" lengthAdjust="spacingAndGlyphs">UPH</text>
<text class="t" x="2621.4" y="490.7" font-size="24.5" textLength="29.2" lengthAdjust="spacingAndGlyphs">04</text>
<text class="t" x="2692.9" y="470.8" font-size="24.5" textLength="50.4" lengthAdjust="spacingAndGlyphs">UPH</text>
<text class="t" x="2703.5" y="500.2" font-size="24.5" textLength="29.2" lengthAdjust="spacingAndGlyphs">03</text>
<text class="t" x="2645.5" y="77.9" font-size="14.5" textLength="131" lengthAdjust="spacingAndGlyphs">SW 13TH STREET</text>
<text class="t" x="2645.5" y="615.8" font-size="14.5" textLength="131" lengthAdjust="spacingAndGlyphs">SW 14TH STREET</text>
<text class="t" font-size="14.5" textLength="133.8" lengthAdjust="spacingAndGlyphs" transform="translate(2861.6 415.6) rotate(-90)">S. MIAMI AVENUE</text>
<text class="t" font-size="14.5" textLength="113" lengthAdjust="spacingAndGlyphs" transform="translate(2944.8 403.3) rotate(-90)">BISCAYNE BAY</text>
<text class="t" x="2428.6" y="154.3" font-size="17.5" text-anchor="middle">N</text>
<text class="t" x="2428.1" y="270" font-size="17.5" text-anchor="middle">S</text>
<text class="t" x="2372.3" y="211.2" font-size="17.5" text-anchor="middle">W</text>
<text class="t" x="2483" y="211.2" font-size="17.5" text-anchor="middle">E</text></g>
<g id="wm"><clipPath id="wmc"><rect x="0" y="0" width="3009" height="2990.5"/></clipPath>
<g clip-path="url(#wmc)" style="font-family:'Liberation Sans',sans-serif;fill:#000;fill-opacity:0.145" font-size="125"><text transform="translate(-79.1 -210.9) rotate(45)">CondoBlackBook</text><text transform="translate(837.2 61.4) rotate(45)">CondoBlackBook</text><text transform="translate(1801.2 254.9) rotate(45)">CondoBlackBook</text><text transform="translate(2389.4 -263.1) rotate(45)">CondoBlackBook</text><text transform="translate(2705.9 523.9) rotate(45)">CondoBlackBook</text><text transform="translate(117.6 763.9) rotate(45)">CondoBlackBook</text><text transform="translate(1094.5 962.5) rotate(45)">CondoBlackBook</text><text transform="translate(1998.9 1230.1) rotate(45)">CondoBlackBook</text><text transform="translate(-611.7 1496.6) rotate(45)">CondoBlackBook</text><text transform="translate(386 1669.5) rotate(45)">CondoBlackBook</text><text transform="translate(1292.5 1938.5) rotate(45)">CondoBlackBook</text><text transform="translate(2267 2136.3) rotate(45)">CondoBlackBook</text><text transform="translate(-343.8 2401.3) rotate(45)">CondoBlackBook</text><text transform="translate(561.1 2668.5) rotate(45)">CondoBlackBook</text><text transform="translate(1560.7 2841.7) rotate(45)">CondoBlackBook</text></g></g>
</svg>
</body></html>
